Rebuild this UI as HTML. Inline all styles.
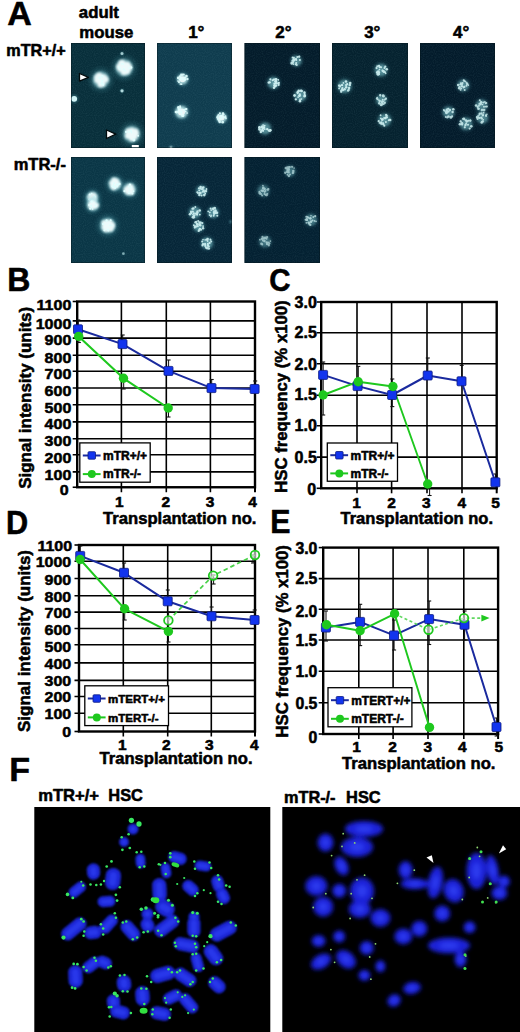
<!DOCTYPE html>
<html><head><meta charset="utf-8"><style>
html,body{margin:0;padding:0;background:#fff;}
body{width:520px;height:1032px;position:relative;overflow:hidden;}
svg{position:absolute;left:0;top:0;font-family:"Liberation Sans", sans-serif;font-weight:bold;}
text{stroke:#000;stroke-width:0.55px;stroke-linejoin:round;}
</style></head><body>
<svg width="520" height="1032" viewBox="0 0 520 1032">
<defs><radialGradient id="cell"><stop offset="0" stop-color="#ffffff"/><stop offset="0.6" stop-color="#f0ffff"/><stop offset="0.85" stop-color="#b0e0e4" stop-opacity="0.85"/><stop offset="1" stop-color="#70b8c0" stop-opacity="0"/></radialGradient><radialGradient id="glow"><stop offset="0" stop-color="#90d8e0" stop-opacity="0.7"/><stop offset="0.6" stop-color="#5aa8b4" stop-opacity="0.25"/><stop offset="1" stop-color="#3a8a98" stop-opacity="0"/></radialGradient><filter id="bl1" x="-50%" y="-50%" width="200%" height="200%"><feGaussianBlur stdDeviation="0.5"/></filter><filter id="bl2" x="-50%" y="-50%" width="200%" height="200%"><feGaussianBlur stdDeviation="1.2"/></filter><filter id="bl3" x="-50%" y="-50%" width="200%" height="200%"><feGaussianBlur stdDeviation="0.8"/></filter><filter id="noise" x="0" y="0" width="100%" height="100%"><feTurbulence type="fractalNoise" baseFrequency="0.9" numOctaves="1" seed="3"/><feColorMatrix values="0 0 0 0 0.5  0 0 0 0 0.8  0 0 0 0 0.85  0 0 0 0.9 -0.35"/></filter></defs>
<clipPath id="c71_43"><rect x="71" y="43" width="74" height="105"/></clipPath>
<rect x="71" y="43" width="74" height="105" fill="#082f3b"/>
<g clip-path="url(#c71_43)">
<rect x="71" y="43" width="74" height="105" filter="url(#noise)" opacity="0.18"/>
<circle cx="124.2" cy="67.7" r="15.4" fill="url(#glow)" opacity="0.90"/>
<circle cx="124.2" cy="67.7" r="8.9" fill="#9cdce4" opacity="0.45" filter="url(#bl2)"/>
<g fill="#f4ffff" opacity="0.95" filter="url(#bl3)"><circle cx="124.2" cy="67.7" r="5.4"/><circle cx="128.4" cy="67.6" r="3.8"/><circle cx="126.8" cy="70.9" r="3.5"/><circle cx="124.1" cy="71.8" r="3.5"/><circle cx="120.7" cy="68.7" r="3.2"/><circle cx="119.8" cy="66.8" r="3.6"/><circle cx="121.9" cy="63.5" r="3.8"/><circle cx="127.2" cy="64.6" r="3.1"/></g>
<g opacity="0.95" filter="url(#bl1)"><circle cx="129.1" cy="68.2" r="0.83" fill="#e0ffff"/><circle cx="125.4" cy="70.8" r="0.82" fill="#e0ffff"/><circle cx="119.8" cy="68.7" r="1.26" fill="#e0ffff"/><circle cx="118.8" cy="67.1" r="1.07" fill="#e0ffff"/><circle cx="121.8" cy="63.8" r="0.95" fill="#e0ffff"/><circle cx="131.0" cy="67.6" r="1.26" fill="#e0ffff"/><circle cx="123.2" cy="64.0" r="0.93" fill="#e0ffff"/><circle cx="123.8" cy="69.4" r="1.22" fill="#e0ffff"/></g>
<circle cx="101" cy="79.7" r="15.0" fill="url(#glow)" opacity="0.90"/>
<circle cx="101" cy="79.7" r="8.6" fill="#9cdce4" opacity="0.45" filter="url(#bl2)"/>
<g fill="#f4ffff" opacity="0.95" filter="url(#bl3)"><circle cx="101" cy="79.7" r="5.2"/><circle cx="105.4" cy="79.4" r="3.2"/><circle cx="102.7" cy="83.8" r="2.9"/><circle cx="100.8" cy="84.2" r="3.3"/><circle cx="97.2" cy="80.3" r="2.9"/><circle cx="97.2" cy="77.5" r="3.1"/><circle cx="99.3" cy="76.3" r="3.7"/><circle cx="103.6" cy="77.3" r="3.1"/></g>
<g opacity="0.95" filter="url(#bl1)"><circle cx="102.3" cy="80.7" r="1.24" fill="#e0ffff"/><circle cx="103.2" cy="84.1" r="1.05" fill="#e0ffff"/><circle cx="103.1" cy="85.0" r="0.87" fill="#e0ffff"/><circle cx="99.6" cy="77.9" r="1.03" fill="#e0ffff"/><circle cx="101.8" cy="83.0" r="1.33" fill="#e0ffff"/><circle cx="102.2" cy="76.3" r="1.29" fill="#e0ffff"/><circle cx="102.0" cy="83.7" r="1.27" fill="#e0ffff"/><circle cx="99.7" cy="78.1" r="1.34" fill="#e0ffff"/></g>
<circle cx="131.8" cy="134.2" r="15.0" fill="url(#glow)" opacity="0.90"/>
<circle cx="131.8" cy="134.2" r="8.6" fill="#9cdce4" opacity="0.45" filter="url(#bl2)"/>
<g fill="#f4ffff" opacity="0.95" filter="url(#bl3)"><circle cx="131.8" cy="134.2" r="5.2"/><circle cx="135.4" cy="133.6" r="3.5"/><circle cx="134.4" cy="136.9" r="2.9"/><circle cx="131.9" cy="138.3" r="3.1"/><circle cx="128.2" cy="135.7" r="3.3"/><circle cx="128.8" cy="131.6" r="3.4"/><circle cx="131.8" cy="130.6" r="3.0"/><circle cx="135.3" cy="131.5" r="3.1"/></g>
<g opacity="0.95" filter="url(#bl1)"><circle cx="133.9" cy="139.5" r="1.32" fill="#e0ffff"/><circle cx="133.9" cy="140.3" r="1.29" fill="#e0ffff"/><circle cx="128.4" cy="131.6" r="0.86" fill="#e0ffff"/><circle cx="138.1" cy="135.8" r="0.93" fill="#e0ffff"/><circle cx="130.9" cy="131.0" r="1.25" fill="#e0ffff"/><circle cx="128.9" cy="132.2" r="0.90" fill="#e0ffff"/><circle cx="131.5" cy="132.5" r="0.93" fill="#e0ffff"/><circle cx="126.1" cy="132.0" r="1.14" fill="#e0ffff"/></g>
<circle cx="74.2" cy="98.8" r="6.0" fill="url(#glow)" opacity="0.90"/>
<circle cx="74.2" cy="98.8" r="2.9" fill="#d0f4f6" opacity="1.00" filter="url(#bl1)"/>
<circle cx="122" cy="53.5" r="3.0" fill="url(#glow)" opacity="0.63"/>
<circle cx="122" cy="53.5" r="1.5" fill="#d0f4f6" opacity="0.70" filter="url(#bl1)"/>
<circle cx="122" cy="90.8" r="3.2" fill="url(#glow)" opacity="0.72"/>
<circle cx="122" cy="90.8" r="1.6" fill="#d0f4f6" opacity="0.80" filter="url(#bl1)"/>
</g>
<rect x="71.4" y="43.4" width="73.2" height="104.2" fill="none" stroke="#04141a" stroke-width="0.8" opacity="0.5"/>
<clipPath id="c157_43"><rect x="157" y="43" width="75" height="105"/></clipPath>
<rect x="157" y="43" width="75" height="105" fill="#0f3c4e"/>
<g clip-path="url(#c157_43)">
<rect x="157" y="43" width="75" height="105" filter="url(#noise)" opacity="0.18"/>
<circle cx="182.5" cy="79.2" r="9.6" fill="url(#glow)" opacity="0.76"/>
<circle cx="182.5" cy="79.2" r="5.4" fill="#c8f2f4" opacity="0.71" filter="url(#bl2)"/>
<circle cx="182.5" cy="79.2" r="3.0" fill="#ffffff" opacity="0.76" filter="url(#bl1)"/>
<g opacity="0.90" filter="url(#bl1)"><circle cx="181.5" cy="84.2" r="0.91" fill="#e0ffff"/><circle cx="185.2" cy="79.5" r="1.05" fill="#e0ffff"/><circle cx="184.6" cy="80.0" r="1.00" fill="#e0ffff"/><circle cx="180.8" cy="78.4" r="1.00" fill="#e0ffff"/><circle cx="186.5" cy="75.9" r="1.16" fill="#e0ffff"/><circle cx="181.0" cy="75.4" r="0.88" fill="#e0ffff"/><circle cx="183.2" cy="79.4" r="1.30" fill="#e0ffff"/><circle cx="180.9" cy="74.3" r="0.81" fill="#e0ffff"/><circle cx="180.1" cy="76.4" r="1.20" fill="#e0ffff"/><circle cx="180.3" cy="84.0" r="0.84" fill="#e0ffff"/><circle cx="178.2" cy="77.9" r="1.30" fill="#e0ffff"/><circle cx="182.1" cy="74.8" r="1.24" fill="#e0ffff"/><circle cx="185.2" cy="77.6" r="1.18" fill="#e0ffff"/><circle cx="186.5" cy="76.3" r="1.03" fill="#e0ffff"/><circle cx="183.7" cy="74.5" r="1.12" fill="#e0ffff"/><circle cx="180.2" cy="76.9" r="1.12" fill="#e0ffff"/><circle cx="181.3" cy="78.3" r="1.15" fill="#e0ffff"/><circle cx="187.4" cy="79.0" r="1.20" fill="#e0ffff"/><circle cx="179.0" cy="82.1" r="1.12" fill="#e0ffff"/><circle cx="178.0" cy="81.0" r="0.85" fill="#e0ffff"/><circle cx="182.5" cy="78.3" r="1.13" fill="#e0ffff"/><circle cx="180.0" cy="79.5" r="1.18" fill="#e0ffff"/></g>
<circle cx="181.5" cy="112" r="11.2" fill="url(#glow)" opacity="0.80"/>
<circle cx="181.5" cy="112" r="6.3" fill="#c8f2f4" opacity="0.75" filter="url(#bl2)"/>
<circle cx="181.5" cy="112" r="3.5" fill="#ffffff" opacity="0.80" filter="url(#bl1)"/>
<g opacity="0.95" filter="url(#bl1)"><circle cx="176.7" cy="112.1" r="1.31" fill="#e0ffff"/><circle cx="181.5" cy="112.7" r="0.97" fill="#e0ffff"/><circle cx="180.3" cy="109.5" r="0.89" fill="#e0ffff"/><circle cx="185.7" cy="109.2" r="1.04" fill="#e0ffff"/><circle cx="184.2" cy="109.8" r="1.17" fill="#e0ffff"/><circle cx="182.8" cy="115.8" r="1.24" fill="#e0ffff"/><circle cx="186.5" cy="109.0" r="1.01" fill="#e0ffff"/><circle cx="178.5" cy="110.3" r="0.87" fill="#e0ffff"/><circle cx="175.9" cy="112.1" r="1.27" fill="#e0ffff"/><circle cx="180.1" cy="106.2" r="0.95" fill="#e0ffff"/><circle cx="183.5" cy="115.6" r="0.95" fill="#e0ffff"/><circle cx="182.4" cy="115.9" r="1.14" fill="#e0ffff"/><circle cx="178.0" cy="112.1" r="1.26" fill="#e0ffff"/><circle cx="185.6" cy="111.5" r="0.84" fill="#e0ffff"/><circle cx="187.1" cy="113.1" r="0.82" fill="#e0ffff"/><circle cx="180.3" cy="107.5" r="0.97" fill="#e0ffff"/><circle cx="181.7" cy="111.2" r="0.87" fill="#e0ffff"/><circle cx="180.6" cy="112.3" r="1.26" fill="#e0ffff"/><circle cx="181.7" cy="114.3" r="0.83" fill="#e0ffff"/><circle cx="178.7" cy="109.0" r="1.15" fill="#e0ffff"/><circle cx="178.4" cy="107.4" r="1.33" fill="#e0ffff"/><circle cx="180.4" cy="109.5" r="1.06" fill="#e0ffff"/></g>
<circle cx="221.7" cy="117.7" r="8.8" fill="url(#glow)" opacity="0.76"/>
<circle cx="221.7" cy="117.7" r="5.0" fill="#c8f2f4" opacity="0.71" filter="url(#bl2)"/>
<circle cx="221.7" cy="117.7" r="2.8" fill="#ffffff" opacity="0.76" filter="url(#bl1)"/>
<g opacity="0.90" filter="url(#bl1)"><circle cx="221.9" cy="118.2" r="1.06" fill="#e0ffff"/><circle cx="221.2" cy="115.7" r="0.95" fill="#e0ffff"/><circle cx="219.4" cy="121.0" r="1.09" fill="#e0ffff"/><circle cx="218.5" cy="114.9" r="1.02" fill="#e0ffff"/><circle cx="222.9" cy="113.3" r="0.85" fill="#e0ffff"/><circle cx="225.5" cy="116.0" r="0.87" fill="#e0ffff"/><circle cx="218.0" cy="118.8" r="1.30" fill="#e0ffff"/><circle cx="219.1" cy="120.3" r="1.28" fill="#e0ffff"/><circle cx="223.1" cy="113.2" r="1.06" fill="#e0ffff"/><circle cx="220.4" cy="115.9" r="1.20" fill="#e0ffff"/><circle cx="223.3" cy="114.2" r="1.19" fill="#e0ffff"/><circle cx="222.7" cy="122.2" r="1.34" fill="#e0ffff"/><circle cx="225.2" cy="117.2" r="1.23" fill="#e0ffff"/><circle cx="219.7" cy="121.9" r="1.27" fill="#e0ffff"/><circle cx="220.9" cy="118.8" r="1.04" fill="#e0ffff"/><circle cx="217.7" cy="116.4" r="1.07" fill="#e0ffff"/><circle cx="226.0" cy="118.5" r="0.84" fill="#e0ffff"/><circle cx="222.3" cy="115.8" r="0.98" fill="#e0ffff"/><circle cx="222.1" cy="115.9" r="0.88" fill="#e0ffff"/><circle cx="217.6" cy="117.3" r="1.26" fill="#e0ffff"/><circle cx="219.9" cy="113.3" r="1.07" fill="#e0ffff"/><circle cx="223.0" cy="117.3" r="0.92" fill="#e0ffff"/></g>
<circle cx="171" cy="147.5" r="3.2" fill="url(#glow)" opacity="0.48"/>
<circle cx="171" cy="147.5" r="1.8" fill="#c8f2f4" opacity="0.45" filter="url(#bl2)"/>
<circle cx="171" cy="147.5" r="1.0" fill="#ffffff" opacity="0.48" filter="url(#bl1)"/>
</g>
<rect x="157.4" y="43.4" width="74.2" height="104.2" fill="none" stroke="#04141a" stroke-width="0.8" opacity="0.5"/>
<clipPath id="c244_5_43"><rect x="244.5" y="43" width="75.5" height="105"/></clipPath>
<rect x="244.5" y="43" width="75.5" height="105" fill="#041c2b"/>
<g clip-path="url(#c244_5_43)">
<rect x="244.5" y="43" width="75.5" height="105" filter="url(#noise)" opacity="0.18"/>
<circle cx="296.2" cy="60.8" r="9.0" fill="url(#glow)" opacity="0.59"/>
<circle cx="296.2" cy="60.8" r="5.4" fill="#7cc4cc" opacity="0.47" filter="url(#bl2)"/>
<g opacity="0.81" filter="url(#bl1)"><circle cx="293.4" cy="60.3" r="1.20" fill="#e0ffff"/><circle cx="293.7" cy="57.9" r="1.26" fill="#e0ffff"/><circle cx="293.5" cy="59.7" r="1.01" fill="#e0ffff"/><circle cx="299.0" cy="56.7" r="0.91" fill="#e0ffff"/><circle cx="299.3" cy="56.6" r="1.09" fill="#e0ffff"/><circle cx="294.1" cy="59.8" r="1.09" fill="#e0ffff"/><circle cx="292.1" cy="60.7" r="0.82" fill="#e0ffff"/><circle cx="299.9" cy="60.1" r="1.02" fill="#e0ffff"/><circle cx="297.4" cy="57.0" r="1.07" fill="#e0ffff"/><circle cx="295.7" cy="59.5" r="1.10" fill="#e0ffff"/><circle cx="291.8" cy="63.5" r="1.31" fill="#e0ffff"/><circle cx="295.8" cy="64.4" r="0.87" fill="#e0ffff"/><circle cx="291.8" cy="62.7" r="1.30" fill="#e0ffff"/><circle cx="293.3" cy="61.2" r="0.91" fill="#e0ffff"/><circle cx="292.5" cy="57.4" r="0.87" fill="#e0ffff"/><circle cx="296.3" cy="60.0" r="0.91" fill="#e0ffff"/><circle cx="296.8" cy="65.1" r="0.98" fill="#e0ffff"/><circle cx="293.6" cy="64.1" r="0.86" fill="#e0ffff"/><circle cx="296.0" cy="59.0" r="1.08" fill="#e0ffff"/><circle cx="296.2" cy="63.1" r="1.09" fill="#e0ffff"/><circle cx="293.2" cy="62.1" r="1.03" fill="#e0ffff"/><circle cx="294.1" cy="60.4" r="0.91" fill="#e0ffff"/></g>
<circle cx="273.5" cy="82.8" r="9.8" fill="url(#glow)" opacity="0.63"/>
<circle cx="273.5" cy="82.8" r="5.9" fill="#7cc4cc" opacity="0.50" filter="url(#bl2)"/>
<g opacity="0.85" filter="url(#bl1)"><circle cx="270.4" cy="79.4" r="1.09" fill="#e0ffff"/><circle cx="276.2" cy="79.2" r="1.27" fill="#e0ffff"/><circle cx="274.0" cy="87.7" r="1.25" fill="#e0ffff"/><circle cx="276.1" cy="81.0" r="0.97" fill="#e0ffff"/><circle cx="275.9" cy="81.6" r="1.35" fill="#e0ffff"/><circle cx="275.1" cy="81.4" r="0.93" fill="#e0ffff"/><circle cx="273.1" cy="79.9" r="0.85" fill="#e0ffff"/><circle cx="275.3" cy="79.6" r="1.23" fill="#e0ffff"/><circle cx="276.1" cy="85.4" r="1.18" fill="#e0ffff"/><circle cx="276.0" cy="83.1" r="1.18" fill="#e0ffff"/><circle cx="278.3" cy="79.8" r="0.86" fill="#e0ffff"/><circle cx="268.5" cy="82.6" r="1.08" fill="#e0ffff"/><circle cx="272.5" cy="80.5" r="0.84" fill="#e0ffff"/><circle cx="274.4" cy="83.5" r="1.10" fill="#e0ffff"/><circle cx="269.2" cy="82.4" r="0.88" fill="#e0ffff"/><circle cx="274.5" cy="85.2" r="1.26" fill="#e0ffff"/><circle cx="279.0" cy="82.5" r="0.85" fill="#e0ffff"/><circle cx="278.7" cy="84.9" r="1.05" fill="#e0ffff"/><circle cx="273.8" cy="79.5" r="1.06" fill="#e0ffff"/><circle cx="269.8" cy="82.4" r="1.13" fill="#e0ffff"/><circle cx="278.3" cy="83.2" r="1.26" fill="#e0ffff"/><circle cx="275.1" cy="86.3" r="1.21" fill="#e0ffff"/></g>
<circle cx="300.2" cy="95.7" r="9.8" fill="url(#glow)" opacity="0.63"/>
<circle cx="300.2" cy="95.7" r="5.9" fill="#7cc4cc" opacity="0.50" filter="url(#bl2)"/>
<g opacity="0.85" filter="url(#bl1)"><circle cx="298.1" cy="97.1" r="0.89" fill="#e0ffff"/><circle cx="299.5" cy="95.6" r="1.29" fill="#e0ffff"/><circle cx="301.7" cy="91.1" r="1.27" fill="#e0ffff"/><circle cx="297.7" cy="93.1" r="1.13" fill="#e0ffff"/><circle cx="294.5" cy="95.5" r="1.24" fill="#e0ffff"/><circle cx="299.9" cy="101.2" r="1.21" fill="#e0ffff"/><circle cx="301.1" cy="90.6" r="1.02" fill="#e0ffff"/><circle cx="304.5" cy="92.5" r="1.18" fill="#e0ffff"/><circle cx="300.7" cy="90.7" r="1.02" fill="#e0ffff"/><circle cx="299.9" cy="94.2" r="0.99" fill="#e0ffff"/><circle cx="299.6" cy="95.8" r="1.00" fill="#e0ffff"/><circle cx="297.3" cy="92.2" r="0.93" fill="#e0ffff"/><circle cx="304.6" cy="94.1" r="0.99" fill="#e0ffff"/><circle cx="297.9" cy="92.1" r="1.09" fill="#e0ffff"/><circle cx="295.8" cy="99.4" r="1.15" fill="#e0ffff"/><circle cx="298.7" cy="90.9" r="1.34" fill="#e0ffff"/><circle cx="304.6" cy="96.3" r="1.21" fill="#e0ffff"/><circle cx="300.0" cy="99.3" r="0.83" fill="#e0ffff"/><circle cx="301.4" cy="99.0" r="0.85" fill="#e0ffff"/><circle cx="300.2" cy="101.1" r="1.10" fill="#e0ffff"/><circle cx="294.6" cy="95.4" r="1.11" fill="#e0ffff"/><circle cx="304.8" cy="95.6" r="1.25" fill="#e0ffff"/></g>
<circle cx="265" cy="128.5" r="9.8" fill="url(#glow)" opacity="0.63"/>
<circle cx="265" cy="128.5" r="5.9" fill="#7cc4cc" opacity="0.50" filter="url(#bl2)"/>
<g opacity="0.85" filter="url(#bl1)"><circle cx="268.9" cy="130.5" r="1.22" fill="#e0ffff"/><circle cx="270.3" cy="130.0" r="0.89" fill="#e0ffff"/><circle cx="262.7" cy="128.9" r="1.07" fill="#e0ffff"/><circle cx="263.9" cy="127.6" r="1.32" fill="#e0ffff"/><circle cx="261.4" cy="130.5" r="1.13" fill="#e0ffff"/><circle cx="263.0" cy="130.8" r="1.16" fill="#e0ffff"/><circle cx="262.2" cy="127.4" r="1.19" fill="#e0ffff"/><circle cx="264.8" cy="129.1" r="0.93" fill="#e0ffff"/><circle cx="267.2" cy="129.1" r="1.22" fill="#e0ffff"/><circle cx="260.8" cy="132.0" r="1.21" fill="#e0ffff"/><circle cx="270.4" cy="130.3" r="1.32" fill="#e0ffff"/><circle cx="269.9" cy="130.9" r="1.04" fill="#e0ffff"/><circle cx="259.4" cy="129.3" r="0.93" fill="#e0ffff"/><circle cx="259.5" cy="127.7" r="1.20" fill="#e0ffff"/><circle cx="259.5" cy="129.6" r="1.25" fill="#e0ffff"/><circle cx="263.5" cy="127.3" r="1.14" fill="#e0ffff"/><circle cx="262.5" cy="129.2" r="0.83" fill="#e0ffff"/><circle cx="263.0" cy="128.1" r="1.04" fill="#e0ffff"/><circle cx="263.1" cy="125.1" r="0.94" fill="#e0ffff"/><circle cx="261.8" cy="126.7" r="1.23" fill="#e0ffff"/><circle cx="259.4" cy="127.4" r="1.32" fill="#e0ffff"/><circle cx="264.7" cy="125.7" r="0.86" fill="#e0ffff"/></g>
</g>
<rect x="244.9" y="43.4" width="74.7" height="104.2" fill="none" stroke="#04141a" stroke-width="0.8" opacity="0.5"/>
<clipPath id="c332_43"><rect x="332" y="43" width="76" height="105"/></clipPath>
<rect x="332" y="43" width="76" height="105" fill="#05222f"/>
<g clip-path="url(#c332_43)">
<rect x="332" y="43" width="76" height="105" filter="url(#noise)" opacity="0.18"/>
<circle cx="381" cy="70" r="10.5" fill="url(#glow)" opacity="0.59"/>
<circle cx="381" cy="70" r="6.3" fill="#7cc4cc" opacity="0.47" filter="url(#bl2)"/>
<g opacity="0.81" filter="url(#bl1)"><circle cx="385.3" cy="66.6" r="1.14" fill="#e0ffff"/><circle cx="379.0" cy="72.5" r="1.18" fill="#e0ffff"/><circle cx="376.6" cy="68.1" r="1.15" fill="#e0ffff"/><circle cx="381.1" cy="67.3" r="0.94" fill="#e0ffff"/><circle cx="386.8" cy="69.2" r="1.28" fill="#e0ffff"/><circle cx="382.5" cy="70.4" r="0.95" fill="#e0ffff"/><circle cx="376.7" cy="72.2" r="0.86" fill="#e0ffff"/><circle cx="379.4" cy="69.6" r="0.85" fill="#e0ffff"/><circle cx="379.0" cy="65.9" r="1.15" fill="#e0ffff"/><circle cx="378.0" cy="73.0" r="0.92" fill="#e0ffff"/><circle cx="378.0" cy="74.4" r="1.26" fill="#e0ffff"/><circle cx="382.9" cy="71.0" r="1.25" fill="#e0ffff"/><circle cx="377.2" cy="66.2" r="0.92" fill="#e0ffff"/><circle cx="378.2" cy="71.4" r="1.25" fill="#e0ffff"/><circle cx="377.6" cy="73.7" r="1.34" fill="#e0ffff"/><circle cx="378.9" cy="74.1" r="1.21" fill="#e0ffff"/><circle cx="384.5" cy="68.1" r="1.00" fill="#e0ffff"/><circle cx="385.7" cy="73.3" r="0.84" fill="#e0ffff"/><circle cx="385.0" cy="72.3" r="1.07" fill="#e0ffff"/><circle cx="379.7" cy="66.9" r="1.23" fill="#e0ffff"/><circle cx="383.5" cy="71.3" r="1.16" fill="#e0ffff"/><circle cx="384.0" cy="71.7" r="1.20" fill="#e0ffff"/></g>
<circle cx="344.6" cy="86.2" r="11.2" fill="url(#glow)" opacity="0.59"/>
<circle cx="344.6" cy="86.2" r="6.8" fill="#7cc4cc" opacity="0.47" filter="url(#bl2)"/>
<g opacity="0.81" filter="url(#bl1)"><circle cx="343.4" cy="82.9" r="0.88" fill="#e0ffff"/><circle cx="341.1" cy="90.6" r="1.00" fill="#e0ffff"/><circle cx="348.7" cy="89.9" r="1.11" fill="#e0ffff"/><circle cx="350.2" cy="83.1" r="1.30" fill="#e0ffff"/><circle cx="339.1" cy="88.4" r="0.97" fill="#e0ffff"/><circle cx="342.9" cy="90.0" r="1.31" fill="#e0ffff"/><circle cx="347.2" cy="84.2" r="1.00" fill="#e0ffff"/><circle cx="342.0" cy="89.2" r="1.02" fill="#e0ffff"/><circle cx="342.4" cy="88.1" r="1.11" fill="#e0ffff"/><circle cx="346.0" cy="81.6" r="1.26" fill="#e0ffff"/><circle cx="342.0" cy="85.1" r="1.22" fill="#e0ffff"/><circle cx="347.2" cy="83.8" r="0.81" fill="#e0ffff"/><circle cx="339.8" cy="85.7" r="1.11" fill="#e0ffff"/><circle cx="349.8" cy="85.1" r="1.24" fill="#e0ffff"/><circle cx="349.1" cy="88.1" r="1.23" fill="#e0ffff"/><circle cx="346.2" cy="87.2" r="1.21" fill="#e0ffff"/><circle cx="346.1" cy="85.1" r="1.15" fill="#e0ffff"/><circle cx="348.1" cy="90.7" r="1.16" fill="#e0ffff"/><circle cx="344.7" cy="89.3" r="1.22" fill="#e0ffff"/><circle cx="338.9" cy="85.4" r="1.02" fill="#e0ffff"/><circle cx="341.2" cy="91.7" r="1.17" fill="#e0ffff"/><circle cx="339.8" cy="86.4" r="1.20" fill="#e0ffff"/></g>
<circle cx="381.5" cy="100" r="9.0" fill="url(#glow)" opacity="0.56"/>
<circle cx="381.5" cy="100" r="5.4" fill="#7cc4cc" opacity="0.44" filter="url(#bl2)"/>
<g opacity="0.76" filter="url(#bl1)"><circle cx="380.2" cy="95.1" r="1.03" fill="#e0ffff"/><circle cx="383.5" cy="96.2" r="1.27" fill="#e0ffff"/><circle cx="383.2" cy="95.5" r="1.29" fill="#e0ffff"/><circle cx="385.6" cy="98.9" r="1.09" fill="#e0ffff"/><circle cx="380.3" cy="95.4" r="1.03" fill="#e0ffff"/><circle cx="379.7" cy="101.0" r="1.21" fill="#e0ffff"/><circle cx="384.7" cy="99.8" r="0.89" fill="#e0ffff"/><circle cx="382.5" cy="103.3" r="0.96" fill="#e0ffff"/><circle cx="382.8" cy="99.8" r="0.97" fill="#e0ffff"/><circle cx="384.7" cy="102.8" r="1.23" fill="#e0ffff"/><circle cx="382.1" cy="101.2" r="1.05" fill="#e0ffff"/><circle cx="377.2" cy="97.5" r="0.82" fill="#e0ffff"/><circle cx="383.3" cy="101.4" r="0.92" fill="#e0ffff"/><circle cx="381.9" cy="104.5" r="1.13" fill="#e0ffff"/><circle cx="381.9" cy="102.2" r="0.95" fill="#e0ffff"/><circle cx="383.7" cy="104.1" r="0.97" fill="#e0ffff"/><circle cx="376.9" cy="98.6" r="1.06" fill="#e0ffff"/><circle cx="381.2" cy="105.0" r="1.30" fill="#e0ffff"/><circle cx="379.4" cy="103.3" r="1.33" fill="#e0ffff"/><circle cx="379.0" cy="100.3" r="0.83" fill="#e0ffff"/><circle cx="386.0" cy="98.5" r="1.01" fill="#e0ffff"/><circle cx="377.8" cy="99.3" r="0.95" fill="#e0ffff"/></g>
<circle cx="384.6" cy="120" r="10.5" fill="url(#glow)" opacity="0.59"/>
<circle cx="384.6" cy="120" r="6.3" fill="#7cc4cc" opacity="0.47" filter="url(#bl2)"/>
<g opacity="0.81" filter="url(#bl1)"><circle cx="389.6" cy="119.7" r="0.93" fill="#e0ffff"/><circle cx="388.8" cy="120.3" r="1.00" fill="#e0ffff"/><circle cx="386.1" cy="115.0" r="1.13" fill="#e0ffff"/><circle cx="385.9" cy="122.0" r="0.98" fill="#e0ffff"/><circle cx="384.3" cy="125.7" r="1.08" fill="#e0ffff"/><circle cx="380.6" cy="115.3" r="0.95" fill="#e0ffff"/><circle cx="382.3" cy="119.5" r="1.22" fill="#e0ffff"/><circle cx="390.2" cy="120.0" r="1.27" fill="#e0ffff"/><circle cx="385.4" cy="118.4" r="0.95" fill="#e0ffff"/><circle cx="384.2" cy="118.1" r="1.06" fill="#e0ffff"/><circle cx="378.7" cy="121.2" r="1.12" fill="#e0ffff"/><circle cx="386.7" cy="117.3" r="1.23" fill="#e0ffff"/><circle cx="379.5" cy="122.9" r="0.85" fill="#e0ffff"/><circle cx="385.9" cy="117.5" r="1.10" fill="#e0ffff"/><circle cx="382.2" cy="119.6" r="1.26" fill="#e0ffff"/><circle cx="383.3" cy="123.2" r="0.84" fill="#e0ffff"/><circle cx="383.2" cy="124.0" r="1.19" fill="#e0ffff"/><circle cx="381.4" cy="123.9" r="0.86" fill="#e0ffff"/><circle cx="381.3" cy="122.6" r="1.33" fill="#e0ffff"/><circle cx="387.0" cy="115.6" r="0.81" fill="#e0ffff"/><circle cx="380.9" cy="123.6" r="0.93" fill="#e0ffff"/><circle cx="380.8" cy="118.4" r="0.81" fill="#e0ffff"/></g>
</g>
<rect x="332.4" y="43.4" width="75.2" height="104.2" fill="none" stroke="#04141a" stroke-width="0.8" opacity="0.5"/>
<clipPath id="c420_43"><rect x="420" y="43" width="75" height="105"/></clipPath>
<rect x="420" y="43" width="75" height="105" fill="#031b2b"/>
<g clip-path="url(#c420_43)">
<rect x="420" y="43" width="75" height="105" filter="url(#noise)" opacity="0.18"/>
<circle cx="463.2" cy="85.4" r="9.8" fill="url(#glow)" opacity="0.56"/>
<circle cx="463.2" cy="85.4" r="5.9" fill="#7cc4cc" opacity="0.44" filter="url(#bl2)"/>
<g opacity="0.76" filter="url(#bl1)"><circle cx="468.3" cy="85.1" r="0.91" fill="#e0ffff"/><circle cx="460.9" cy="83.3" r="1.01" fill="#e0ffff"/><circle cx="460.2" cy="84.6" r="0.99" fill="#e0ffff"/><circle cx="459.6" cy="88.3" r="0.94" fill="#e0ffff"/><circle cx="464.7" cy="90.1" r="0.98" fill="#e0ffff"/><circle cx="467.2" cy="83.9" r="1.20" fill="#e0ffff"/><circle cx="460.6" cy="89.9" r="0.85" fill="#e0ffff"/><circle cx="464.3" cy="86.8" r="1.17" fill="#e0ffff"/><circle cx="462.6" cy="83.1" r="1.02" fill="#e0ffff"/><circle cx="465.5" cy="81.6" r="0.85" fill="#e0ffff"/><circle cx="463.5" cy="87.6" r="0.87" fill="#e0ffff"/><circle cx="461.9" cy="86.3" r="1.31" fill="#e0ffff"/><circle cx="459.5" cy="87.2" r="1.16" fill="#e0ffff"/><circle cx="463.7" cy="80.2" r="1.01" fill="#e0ffff"/><circle cx="461.4" cy="88.6" r="0.81" fill="#e0ffff"/><circle cx="459.3" cy="88.2" r="1.34" fill="#e0ffff"/><circle cx="464.3" cy="80.9" r="1.13" fill="#e0ffff"/><circle cx="466.5" cy="85.8" r="0.99" fill="#e0ffff"/><circle cx="462.1" cy="83.9" r="1.01" fill="#e0ffff"/><circle cx="458.1" cy="85.1" r="1.25" fill="#e0ffff"/><circle cx="461.5" cy="83.9" r="1.22" fill="#e0ffff"/><circle cx="466.7" cy="83.0" r="0.99" fill="#e0ffff"/></g>
<circle cx="448.5" cy="112.3" r="9.8" fill="url(#glow)" opacity="0.56"/>
<circle cx="448.5" cy="112.3" r="5.9" fill="#7cc4cc" opacity="0.44" filter="url(#bl2)"/>
<g opacity="0.76" filter="url(#bl1)"><circle cx="446.3" cy="112.3" r="1.19" fill="#e0ffff"/><circle cx="452.6" cy="112.0" r="1.19" fill="#e0ffff"/><circle cx="449.8" cy="110.1" r="1.32" fill="#e0ffff"/><circle cx="446.7" cy="110.5" r="0.85" fill="#e0ffff"/><circle cx="448.6" cy="116.6" r="1.18" fill="#e0ffff"/><circle cx="445.9" cy="117.1" r="1.00" fill="#e0ffff"/><circle cx="446.5" cy="112.8" r="1.34" fill="#e0ffff"/><circle cx="452.1" cy="116.4" r="1.10" fill="#e0ffff"/><circle cx="444.5" cy="110.7" r="0.95" fill="#e0ffff"/><circle cx="453.3" cy="109.2" r="1.25" fill="#e0ffff"/><circle cx="446.9" cy="111.1" r="1.25" fill="#e0ffff"/><circle cx="447.2" cy="117.6" r="0.93" fill="#e0ffff"/><circle cx="443.8" cy="110.0" r="0.90" fill="#e0ffff"/><circle cx="447.0" cy="111.8" r="0.82" fill="#e0ffff"/><circle cx="450.9" cy="117.4" r="1.32" fill="#e0ffff"/><circle cx="446.8" cy="109.6" r="1.17" fill="#e0ffff"/><circle cx="448.2" cy="108.8" r="1.13" fill="#e0ffff"/><circle cx="448.7" cy="111.6" r="0.91" fill="#e0ffff"/><circle cx="446.4" cy="112.7" r="1.01" fill="#e0ffff"/><circle cx="446.3" cy="111.3" r="1.09" fill="#e0ffff"/><circle cx="448.1" cy="116.6" r="0.98" fill="#e0ffff"/><circle cx="447.8" cy="111.4" r="1.17" fill="#e0ffff"/></g>
<circle cx="466" cy="123.8" r="10.5" fill="url(#glow)" opacity="0.56"/>
<circle cx="466" cy="123.8" r="6.3" fill="#7cc4cc" opacity="0.44" filter="url(#bl2)"/>
<g opacity="0.76" filter="url(#bl1)"><circle cx="469.7" cy="128.6" r="1.13" fill="#e0ffff"/><circle cx="462.1" cy="124.5" r="1.14" fill="#e0ffff"/><circle cx="464.0" cy="118.8" r="1.21" fill="#e0ffff"/><circle cx="459.9" cy="124.3" r="1.26" fill="#e0ffff"/><circle cx="468.4" cy="120.7" r="1.04" fill="#e0ffff"/><circle cx="460.6" cy="121.4" r="1.09" fill="#e0ffff"/><circle cx="462.0" cy="123.2" r="1.30" fill="#e0ffff"/><circle cx="465.4" cy="125.1" r="1.20" fill="#e0ffff"/><circle cx="470.3" cy="120.7" r="1.13" fill="#e0ffff"/><circle cx="466.0" cy="120.4" r="1.13" fill="#e0ffff"/><circle cx="468.0" cy="124.7" r="1.05" fill="#e0ffff"/><circle cx="462.1" cy="123.7" r="0.83" fill="#e0ffff"/><circle cx="464.5" cy="119.6" r="0.93" fill="#e0ffff"/><circle cx="464.7" cy="127.4" r="0.93" fill="#e0ffff"/><circle cx="471.3" cy="126.3" r="1.33" fill="#e0ffff"/><circle cx="463.1" cy="118.9" r="1.03" fill="#e0ffff"/><circle cx="467.0" cy="121.1" r="1.21" fill="#e0ffff"/><circle cx="460.7" cy="121.4" r="0.85" fill="#e0ffff"/><circle cx="466.6" cy="121.7" r="1.10" fill="#e0ffff"/><circle cx="466.1" cy="123.8" r="0.93" fill="#e0ffff"/><circle cx="464.9" cy="127.1" r="0.83" fill="#e0ffff"/><circle cx="470.4" cy="120.4" r="1.02" fill="#e0ffff"/></g>
<circle cx="481.6" cy="105.4" r="9.8" fill="url(#glow)" opacity="0.56"/>
<circle cx="481.6" cy="105.4" r="5.9" fill="#7cc4cc" opacity="0.44" filter="url(#bl2)"/>
<g opacity="0.76" filter="url(#bl1)"><circle cx="478.9" cy="108.8" r="0.83" fill="#e0ffff"/><circle cx="486.9" cy="106.5" r="0.97" fill="#e0ffff"/><circle cx="476.1" cy="105.5" r="1.34" fill="#e0ffff"/><circle cx="479.0" cy="105.8" r="0.96" fill="#e0ffff"/><circle cx="486.4" cy="102.9" r="0.91" fill="#e0ffff"/><circle cx="483.4" cy="102.5" r="1.06" fill="#e0ffff"/><circle cx="484.1" cy="110.1" r="1.35" fill="#e0ffff"/><circle cx="483.0" cy="109.7" r="0.91" fill="#e0ffff"/><circle cx="482.5" cy="104.5" r="0.86" fill="#e0ffff"/><circle cx="481.1" cy="102.2" r="1.30" fill="#e0ffff"/><circle cx="484.9" cy="101.9" r="0.87" fill="#e0ffff"/><circle cx="479.8" cy="100.2" r="1.04" fill="#e0ffff"/><circle cx="484.0" cy="106.7" r="0.97" fill="#e0ffff"/><circle cx="481.0" cy="102.9" r="0.90" fill="#e0ffff"/><circle cx="482.0" cy="110.0" r="1.23" fill="#e0ffff"/><circle cx="478.4" cy="108.7" r="1.29" fill="#e0ffff"/><circle cx="479.3" cy="103.9" r="0.97" fill="#e0ffff"/><circle cx="485.8" cy="103.3" r="0.95" fill="#e0ffff"/><circle cx="480.5" cy="104.1" r="1.34" fill="#e0ffff"/><circle cx="477.7" cy="106.9" r="1.09" fill="#e0ffff"/><circle cx="485.9" cy="106.6" r="0.96" fill="#e0ffff"/><circle cx="481.6" cy="110.5" r="0.85" fill="#e0ffff"/></g>
<circle cx="482.4" cy="117.7" r="9.8" fill="url(#glow)" opacity="0.56"/>
<circle cx="482.4" cy="117.7" r="5.9" fill="#7cc4cc" opacity="0.44" filter="url(#bl2)"/>
<g opacity="0.76" filter="url(#bl1)"><circle cx="481.3" cy="122.6" r="0.94" fill="#e0ffff"/><circle cx="481.6" cy="121.9" r="0.90" fill="#e0ffff"/><circle cx="486.9" cy="114.3" r="0.82" fill="#e0ffff"/><circle cx="477.6" cy="118.9" r="1.01" fill="#e0ffff"/><circle cx="486.1" cy="116.0" r="0.90" fill="#e0ffff"/><circle cx="478.1" cy="116.1" r="1.00" fill="#e0ffff"/><circle cx="479.6" cy="113.5" r="1.08" fill="#e0ffff"/><circle cx="477.1" cy="117.5" r="1.18" fill="#e0ffff"/><circle cx="476.9" cy="117.0" r="0.90" fill="#e0ffff"/><circle cx="482.8" cy="115.4" r="1.13" fill="#e0ffff"/><circle cx="482.7" cy="121.5" r="1.23" fill="#e0ffff"/><circle cx="483.6" cy="112.7" r="0.93" fill="#e0ffff"/><circle cx="479.7" cy="117.9" r="1.12" fill="#e0ffff"/><circle cx="481.3" cy="117.7" r="1.13" fill="#e0ffff"/><circle cx="481.4" cy="113.5" r="1.28" fill="#e0ffff"/><circle cx="483.3" cy="119.7" r="0.81" fill="#e0ffff"/><circle cx="478.6" cy="117.8" r="1.04" fill="#e0ffff"/><circle cx="482.0" cy="122.8" r="0.84" fill="#e0ffff"/><circle cx="486.0" cy="115.3" r="1.10" fill="#e0ffff"/><circle cx="483.1" cy="115.0" r="0.88" fill="#e0ffff"/><circle cx="482.0" cy="118.8" r="0.97" fill="#e0ffff"/><circle cx="479.4" cy="114.8" r="0.95" fill="#e0ffff"/></g>
</g>
<rect x="420.4" y="43.4" width="74.2" height="104.2" fill="none" stroke="#04141a" stroke-width="0.8" opacity="0.5"/>
<clipPath id="c71_157"><rect x="71" y="157" width="74" height="106"/></clipPath>
<rect x="71" y="157" width="74" height="106" fill="#0a3646"/>
<g clip-path="url(#c71_157)">
<rect x="71" y="157" width="74" height="106" filter="url(#noise)" opacity="0.18"/>
<circle cx="114.9" cy="184" r="12.0" fill="url(#glow)" opacity="0.90"/>
<circle cx="114.9" cy="184" r="6.9" fill="#9cdce4" opacity="0.45" filter="url(#bl2)"/>
<g fill="#f4ffff" opacity="0.95" filter="url(#bl3)"><circle cx="114.9" cy="184" r="4.2"/><circle cx="117.7" cy="184.1" r="2.9"/><circle cx="117.2" cy="185.9" r="2.4"/><circle cx="113.7" cy="187.3" r="2.8"/><circle cx="112.5" cy="186.0" r="2.5"/><circle cx="111.4" cy="183.0" r="2.3"/><circle cx="114.1" cy="180.6" r="3.0"/><circle cx="116.3" cy="181.2" r="2.8"/></g>
<g opacity="0.95" filter="url(#bl1)"><circle cx="117.4" cy="184.6" r="1.29" fill="#e0ffff"/><circle cx="117.0" cy="186.6" r="0.96" fill="#e0ffff"/><circle cx="113.6" cy="184.7" r="0.82" fill="#e0ffff"/><circle cx="119.5" cy="183.9" r="1.20" fill="#e0ffff"/><circle cx="115.2" cy="186.6" r="1.10" fill="#e0ffff"/><circle cx="115.1" cy="187.6" r="1.31" fill="#e0ffff"/><circle cx="112.9" cy="186.3" r="1.34" fill="#e0ffff"/><circle cx="114.1" cy="183.3" r="1.02" fill="#e0ffff"/></g>
<circle cx="129.5" cy="189.4" r="12.0" fill="url(#glow)" opacity="0.90"/>
<circle cx="129.5" cy="189.4" r="6.9" fill="#9cdce4" opacity="0.45" filter="url(#bl2)"/>
<g fill="#f4ffff" opacity="0.95" filter="url(#bl3)"><circle cx="129.5" cy="189.4" r="4.2"/><circle cx="132.2" cy="189.6" r="2.5"/><circle cx="131.4" cy="192.4" r="2.7"/><circle cx="128.1" cy="192.2" r="2.6"/><circle cx="126.5" cy="190.1" r="2.8"/><circle cx="126.6" cy="188.6" r="2.4"/><circle cx="128.9" cy="186.6" r="2.4"/><circle cx="131.0" cy="186.6" r="2.5"/></g>
<g opacity="0.95" filter="url(#bl1)"><circle cx="124.5" cy="191.1" r="1.17" fill="#e0ffff"/><circle cx="131.1" cy="187.6" r="1.01" fill="#e0ffff"/><circle cx="133.4" cy="191.3" r="1.00" fill="#e0ffff"/><circle cx="129.4" cy="190.1" r="0.90" fill="#e0ffff"/><circle cx="129.2" cy="192.7" r="1.31" fill="#e0ffff"/><circle cx="128.9" cy="186.7" r="1.00" fill="#e0ffff"/><circle cx="132.4" cy="193.6" r="1.00" fill="#e0ffff"/><circle cx="129.9" cy="184.9" r="1.30" fill="#e0ffff"/></g>
<circle cx="92.3" cy="197.5" r="11.0" fill="url(#glow)" opacity="0.90"/>
<circle cx="92.3" cy="197.5" r="6.3" fill="#9cdce4" opacity="0.45" filter="url(#bl2)"/>
<g fill="#f4ffff" opacity="0.95" filter="url(#bl3)"><circle cx="92.3" cy="197.5" r="3.8"/><circle cx="95.0" cy="196.7" r="2.3"/><circle cx="94.9" cy="199.5" r="2.3"/><circle cx="91.2" cy="200.2" r="2.1"/><circle cx="89.9" cy="198.8" r="2.1"/><circle cx="89.4" cy="196.8" r="2.1"/><circle cx="91.4" cy="194.8" r="2.4"/><circle cx="93.7" cy="194.7" r="2.3"/></g>
<g opacity="0.95" filter="url(#bl1)"><circle cx="91.7" cy="193.6" r="0.88" fill="#e0ffff"/><circle cx="93.0" cy="200.0" r="1.19" fill="#e0ffff"/><circle cx="89.8" cy="199.2" r="1.28" fill="#e0ffff"/><circle cx="92.7" cy="200.1" r="0.99" fill="#e0ffff"/><circle cx="92.5" cy="198.5" r="0.81" fill="#e0ffff"/><circle cx="89.8" cy="194.8" r="1.24" fill="#e0ffff"/><circle cx="94.9" cy="197.1" r="1.17" fill="#e0ffff"/><circle cx="94.3" cy="196.4" r="1.18" fill="#e0ffff"/></g>
<circle cx="92.8" cy="205" r="11.0" fill="url(#glow)" opacity="0.90"/>
<circle cx="92.8" cy="205" r="6.3" fill="#9cdce4" opacity="0.45" filter="url(#bl2)"/>
<g fill="#f4ffff" opacity="0.95" filter="url(#bl3)"><circle cx="92.8" cy="205" r="3.8"/><circle cx="96.2" cy="205.3" r="2.7"/><circle cx="95.1" cy="207.1" r="2.1"/><circle cx="92.3" cy="207.8" r="2.1"/><circle cx="90.4" cy="206.4" r="2.4"/><circle cx="90.3" cy="204.2" r="2.4"/><circle cx="92.2" cy="202.4" r="2.5"/><circle cx="94.1" cy="202.8" r="2.3"/></g>
<g opacity="0.95" filter="url(#bl1)"><circle cx="91.1" cy="205.9" r="1.12" fill="#e0ffff"/><circle cx="91.7" cy="201.6" r="1.19" fill="#e0ffff"/><circle cx="95.8" cy="205.4" r="1.00" fill="#e0ffff"/><circle cx="95.6" cy="206.2" r="0.83" fill="#e0ffff"/><circle cx="89.1" cy="205.1" r="1.06" fill="#e0ffff"/><circle cx="91.7" cy="207.2" r="0.81" fill="#e0ffff"/><circle cx="90.2" cy="208.7" r="1.11" fill="#e0ffff"/><circle cx="92.5" cy="208.9" r="0.90" fill="#e0ffff"/></g>
<circle cx="107.7" cy="225.5" r="14.0" fill="url(#glow)" opacity="0.90"/>
<circle cx="107.7" cy="225.5" r="8.0" fill="#9cdce4" opacity="0.45" filter="url(#bl2)"/>
<g fill="#f4ffff" opacity="0.95" filter="url(#bl3)"><circle cx="107.7" cy="225.5" r="4.9"/><circle cx="111.6" cy="225.4" r="3.5"/><circle cx="110.3" cy="228.3" r="3.5"/><circle cx="106.2" cy="229.1" r="3.2"/><circle cx="104.5" cy="227.3" r="2.9"/><circle cx="104.4" cy="223.0" r="3.0"/><circle cx="107.8" cy="222.3" r="2.8"/><circle cx="109.9" cy="222.8" r="3.0"/></g>
<g opacity="0.95" filter="url(#bl1)"><circle cx="110.1" cy="225.2" r="0.91" fill="#e0ffff"/><circle cx="108.4" cy="230.5" r="0.93" fill="#e0ffff"/><circle cx="112.2" cy="225.5" r="1.02" fill="#e0ffff"/><circle cx="108.0" cy="229.8" r="1.16" fill="#e0ffff"/><circle cx="103.1" cy="224.1" r="1.11" fill="#e0ffff"/><circle cx="110.7" cy="220.2" r="0.98" fill="#e0ffff"/><circle cx="104.4" cy="230.3" r="0.97" fill="#e0ffff"/><circle cx="106.6" cy="220.5" r="1.18" fill="#e0ffff"/></g>
<circle cx="123.4" cy="253.7" r="2.4" fill="url(#glow)" opacity="0.45"/>
<circle cx="123.4" cy="253.7" r="1.4" fill="#d0f4f6" opacity="0.50" filter="url(#bl1)"/>
</g>
<rect x="71.4" y="157.4" width="73.2" height="105.2" fill="none" stroke="#04141a" stroke-width="0.8" opacity="0.5"/>
<clipPath id="c157_157"><rect x="157" y="157" width="75" height="106"/></clipPath>
<rect x="157" y="157" width="75" height="106" fill="#062638"/>
<g clip-path="url(#c157_157)">
<rect x="157" y="157" width="75" height="106" filter="url(#noise)" opacity="0.18"/>
<circle cx="201.7" cy="190.9" r="9.0" fill="url(#glow)" opacity="0.59"/>
<circle cx="201.7" cy="190.9" r="5.4" fill="#7cc4cc" opacity="0.47" filter="url(#bl2)"/>
<g opacity="0.81" filter="url(#bl1)"><circle cx="206.4" cy="189.8" r="0.89" fill="#e0ffff"/><circle cx="199.0" cy="188.3" r="1.11" fill="#e0ffff"/><circle cx="199.8" cy="193.0" r="1.21" fill="#e0ffff"/><circle cx="199.2" cy="190.4" r="0.94" fill="#e0ffff"/><circle cx="200.7" cy="192.9" r="1.08" fill="#e0ffff"/><circle cx="202.6" cy="191.8" r="0.84" fill="#e0ffff"/><circle cx="205.2" cy="193.6" r="0.86" fill="#e0ffff"/><circle cx="197.3" cy="192.3" r="1.06" fill="#e0ffff"/><circle cx="204.3" cy="195.1" r="1.28" fill="#e0ffff"/><circle cx="204.2" cy="191.8" r="1.08" fill="#e0ffff"/><circle cx="202.7" cy="187.7" r="1.19" fill="#e0ffff"/><circle cx="201.6" cy="195.4" r="0.98" fill="#e0ffff"/><circle cx="199.4" cy="194.9" r="1.26" fill="#e0ffff"/><circle cx="203.6" cy="187.4" r="1.03" fill="#e0ffff"/><circle cx="200.6" cy="186.9" r="1.26" fill="#e0ffff"/><circle cx="202.3" cy="189.1" r="1.01" fill="#e0ffff"/><circle cx="200.5" cy="188.7" r="0.90" fill="#e0ffff"/><circle cx="205.7" cy="191.2" r="1.32" fill="#e0ffff"/><circle cx="203.6" cy="190.5" r="1.18" fill="#e0ffff"/><circle cx="198.0" cy="192.9" r="1.02" fill="#e0ffff"/><circle cx="206.5" cy="188.8" r="0.83" fill="#e0ffff"/><circle cx="201.3" cy="189.1" r="0.82" fill="#e0ffff"/></g>
<circle cx="194.8" cy="212.5" r="9.8" fill="url(#glow)" opacity="0.59"/>
<circle cx="194.8" cy="212.5" r="5.9" fill="#7cc4cc" opacity="0.47" filter="url(#bl2)"/>
<g opacity="0.81" filter="url(#bl1)"><circle cx="193.7" cy="217.3" r="1.35" fill="#e0ffff"/><circle cx="197.2" cy="214.8" r="0.81" fill="#e0ffff"/><circle cx="191.0" cy="211.4" r="1.01" fill="#e0ffff"/><circle cx="192.9" cy="217.3" r="1.26" fill="#e0ffff"/><circle cx="194.0" cy="216.0" r="1.14" fill="#e0ffff"/><circle cx="195.3" cy="206.9" r="1.01" fill="#e0ffff"/><circle cx="193.3" cy="208.5" r="1.24" fill="#e0ffff"/><circle cx="196.2" cy="214.4" r="0.86" fill="#e0ffff"/><circle cx="197.4" cy="211.3" r="1.07" fill="#e0ffff"/><circle cx="197.2" cy="214.7" r="0.81" fill="#e0ffff"/><circle cx="192.8" cy="211.6" r="1.14" fill="#e0ffff"/><circle cx="194.4" cy="215.2" r="1.07" fill="#e0ffff"/><circle cx="192.9" cy="214.7" r="0.83" fill="#e0ffff"/><circle cx="199.8" cy="214.6" r="0.97" fill="#e0ffff"/><circle cx="197.0" cy="213.7" r="1.07" fill="#e0ffff"/><circle cx="197.4" cy="212.5" r="1.28" fill="#e0ffff"/><circle cx="191.1" cy="212.9" r="1.24" fill="#e0ffff"/><circle cx="193.7" cy="213.3" r="1.10" fill="#e0ffff"/><circle cx="192.3" cy="208.7" r="0.95" fill="#e0ffff"/><circle cx="199.7" cy="210.5" r="1.35" fill="#e0ffff"/><circle cx="189.9" cy="214.3" r="1.20" fill="#e0ffff"/><circle cx="195.2" cy="213.3" r="0.89" fill="#e0ffff"/></g>
<circle cx="213.2" cy="212.5" r="9.0" fill="url(#glow)" opacity="0.59"/>
<circle cx="213.2" cy="212.5" r="5.4" fill="#7cc4cc" opacity="0.47" filter="url(#bl2)"/>
<g opacity="0.81" filter="url(#bl1)"><circle cx="214.3" cy="213.5" r="1.00" fill="#e0ffff"/><circle cx="213.3" cy="209.6" r="1.08" fill="#e0ffff"/><circle cx="215.6" cy="212.7" r="1.33" fill="#e0ffff"/><circle cx="217.0" cy="212.8" r="1.25" fill="#e0ffff"/><circle cx="214.4" cy="208.1" r="1.02" fill="#e0ffff"/><circle cx="214.8" cy="208.0" r="1.22" fill="#e0ffff"/><circle cx="214.9" cy="212.4" r="1.32" fill="#e0ffff"/><circle cx="209.6" cy="215.1" r="0.94" fill="#e0ffff"/><circle cx="213.9" cy="212.1" r="1.12" fill="#e0ffff"/><circle cx="213.7" cy="215.8" r="1.00" fill="#e0ffff"/><circle cx="210.6" cy="208.5" r="1.00" fill="#e0ffff"/><circle cx="211.2" cy="210.1" r="0.95" fill="#e0ffff"/><circle cx="215.7" cy="210.8" r="0.85" fill="#e0ffff"/><circle cx="210.9" cy="216.4" r="0.92" fill="#e0ffff"/><circle cx="213.0" cy="208.6" r="1.17" fill="#e0ffff"/><circle cx="214.0" cy="214.0" r="0.88" fill="#e0ffff"/><circle cx="211.2" cy="215.3" r="0.81" fill="#e0ffff"/><circle cx="209.8" cy="212.4" r="0.98" fill="#e0ffff"/><circle cx="208.2" cy="211.3" r="0.91" fill="#e0ffff"/><circle cx="215.4" cy="210.5" r="1.21" fill="#e0ffff"/><circle cx="217.3" cy="215.8" r="1.04" fill="#e0ffff"/><circle cx="215.6" cy="211.9" r="1.02" fill="#e0ffff"/></g>
<circle cx="198.6" cy="226.3" r="9.0" fill="url(#glow)" opacity="0.59"/>
<circle cx="198.6" cy="226.3" r="5.4" fill="#7cc4cc" opacity="0.47" filter="url(#bl2)"/>
<g opacity="0.81" filter="url(#bl1)"><circle cx="198.0" cy="224.2" r="0.95" fill="#e0ffff"/><circle cx="196.3" cy="221.7" r="0.98" fill="#e0ffff"/><circle cx="199.9" cy="229.2" r="1.34" fill="#e0ffff"/><circle cx="201.1" cy="229.7" r="1.01" fill="#e0ffff"/><circle cx="197.1" cy="224.4" r="1.14" fill="#e0ffff"/><circle cx="202.3" cy="223.1" r="1.15" fill="#e0ffff"/><circle cx="194.6" cy="226.2" r="0.86" fill="#e0ffff"/><circle cx="200.9" cy="222.6" r="1.05" fill="#e0ffff"/><circle cx="196.9" cy="223.4" r="1.01" fill="#e0ffff"/><circle cx="199.1" cy="230.4" r="1.12" fill="#e0ffff"/><circle cx="197.7" cy="226.2" r="1.15" fill="#e0ffff"/><circle cx="194.8" cy="227.6" r="1.13" fill="#e0ffff"/><circle cx="200.5" cy="225.4" r="1.06" fill="#e0ffff"/><circle cx="203.1" cy="226.1" r="0.97" fill="#e0ffff"/><circle cx="198.2" cy="221.1" r="1.02" fill="#e0ffff"/><circle cx="199.9" cy="224.9" r="1.34" fill="#e0ffff"/><circle cx="196.0" cy="226.4" r="1.26" fill="#e0ffff"/><circle cx="195.6" cy="222.2" r="1.26" fill="#e0ffff"/><circle cx="199.7" cy="222.7" r="1.35" fill="#e0ffff"/><circle cx="203.1" cy="228.3" r="1.19" fill="#e0ffff"/><circle cx="198.6" cy="231.0" r="1.05" fill="#e0ffff"/><circle cx="193.8" cy="225.2" r="0.91" fill="#e0ffff"/></g>
<circle cx="207" cy="243.2" r="9.8" fill="url(#glow)" opacity="0.59"/>
<circle cx="207" cy="243.2" r="5.9" fill="#7cc4cc" opacity="0.47" filter="url(#bl2)"/>
<g opacity="0.81" filter="url(#bl1)"><circle cx="206.2" cy="247.7" r="0.84" fill="#e0ffff"/><circle cx="202.2" cy="241.5" r="1.07" fill="#e0ffff"/><circle cx="207.3" cy="248.3" r="1.27" fill="#e0ffff"/><circle cx="207.6" cy="239.0" r="1.30" fill="#e0ffff"/><circle cx="207.6" cy="241.1" r="1.00" fill="#e0ffff"/><circle cx="207.9" cy="243.8" r="0.99" fill="#e0ffff"/><circle cx="210.4" cy="239.3" r="0.86" fill="#e0ffff"/><circle cx="208.5" cy="246.4" r="1.27" fill="#e0ffff"/><circle cx="203.0" cy="239.6" r="0.84" fill="#e0ffff"/><circle cx="209.6" cy="243.0" r="1.15" fill="#e0ffff"/><circle cx="210.5" cy="239.8" r="0.91" fill="#e0ffff"/><circle cx="205.2" cy="239.9" r="0.81" fill="#e0ffff"/><circle cx="205.3" cy="245.9" r="1.15" fill="#e0ffff"/><circle cx="206.2" cy="247.6" r="1.18" fill="#e0ffff"/><circle cx="207.9" cy="245.1" r="1.18" fill="#e0ffff"/><circle cx="205.0" cy="243.6" r="0.86" fill="#e0ffff"/><circle cx="211.2" cy="241.6" r="1.00" fill="#e0ffff"/><circle cx="208.9" cy="248.6" r="1.18" fill="#e0ffff"/><circle cx="206.7" cy="239.8" r="0.97" fill="#e0ffff"/><circle cx="205.2" cy="244.4" r="1.15" fill="#e0ffff"/><circle cx="202.4" cy="245.6" r="1.02" fill="#e0ffff"/><circle cx="203.1" cy="244.3" r="1.32" fill="#e0ffff"/></g>
<circle cx="231" cy="221.7" r="3.0" fill="url(#glow)" opacity="0.35"/>
<circle cx="231" cy="221.7" r="1.8" fill="#7cc4cc" opacity="0.28" filter="url(#bl2)"/>
</g>
<rect x="157.4" y="157.4" width="74.2" height="105.2" fill="none" stroke="#04141a" stroke-width="0.8" opacity="0.5"/>
<clipPath id="c244_5_157"><rect x="244.5" y="157" width="75.5" height="106"/></clipPath>
<rect x="244.5" y="157" width="75.5" height="106" fill="#042132"/>
<g clip-path="url(#c244_5_157)">
<rect x="244.5" y="157" width="75.5" height="106" filter="url(#noise)" opacity="0.18"/>
<circle cx="290" cy="171.2" r="9.0" fill="url(#glow)" opacity="0.42"/>
<circle cx="290" cy="171.2" r="5.4" fill="#7cc4cc" opacity="0.33" filter="url(#bl2)"/>
<g opacity="0.57" filter="url(#bl1)"><circle cx="287.5" cy="174.8" r="0.93" fill="#e0ffff"/><circle cx="287.5" cy="169.9" r="1.28" fill="#e0ffff"/><circle cx="288.9" cy="176.0" r="1.17" fill="#e0ffff"/><circle cx="285.1" cy="172.6" r="1.01" fill="#e0ffff"/><circle cx="289.8" cy="167.1" r="1.05" fill="#e0ffff"/><circle cx="293.1" cy="172.5" r="0.95" fill="#e0ffff"/><circle cx="285.2" cy="173.1" r="0.96" fill="#e0ffff"/><circle cx="288.5" cy="167.1" r="0.93" fill="#e0ffff"/><circle cx="288.4" cy="172.2" r="1.29" fill="#e0ffff"/><circle cx="290.0" cy="174.6" r="0.99" fill="#e0ffff"/><circle cx="292.1" cy="166.8" r="1.12" fill="#e0ffff"/><circle cx="288.4" cy="170.7" r="1.29" fill="#e0ffff"/><circle cx="292.7" cy="172.9" r="1.01" fill="#e0ffff"/><circle cx="289.3" cy="166.9" r="0.99" fill="#e0ffff"/><circle cx="294.1" cy="168.1" r="0.81" fill="#e0ffff"/><circle cx="287.6" cy="168.5" r="1.00" fill="#e0ffff"/><circle cx="287.1" cy="171.9" r="1.17" fill="#e0ffff"/><circle cx="285.9" cy="168.0" r="1.34" fill="#e0ffff"/><circle cx="293.3" cy="171.0" r="1.26" fill="#e0ffff"/><circle cx="287.4" cy="167.6" r="1.35" fill="#e0ffff"/><circle cx="293.3" cy="172.7" r="1.02" fill="#e0ffff"/><circle cx="288.6" cy="169.2" r="1.34" fill="#e0ffff"/></g>
<circle cx="263.5" cy="190.6" r="9.8" fill="url(#glow)" opacity="0.42"/>
<circle cx="263.5" cy="190.6" r="5.9" fill="#7cc4cc" opacity="0.33" filter="url(#bl2)"/>
<g opacity="0.57" filter="url(#bl1)"><circle cx="264.4" cy="194.0" r="0.88" fill="#e0ffff"/><circle cx="259.6" cy="193.6" r="0.85" fill="#e0ffff"/><circle cx="265.8" cy="194.6" r="1.14" fill="#e0ffff"/><circle cx="263.4" cy="187.7" r="1.25" fill="#e0ffff"/><circle cx="262.9" cy="185.6" r="0.87" fill="#e0ffff"/><circle cx="262.8" cy="190.7" r="1.27" fill="#e0ffff"/><circle cx="268.6" cy="188.8" r="0.81" fill="#e0ffff"/><circle cx="261.0" cy="194.0" r="1.09" fill="#e0ffff"/><circle cx="267.4" cy="193.9" r="0.97" fill="#e0ffff"/><circle cx="261.5" cy="190.5" r="1.11" fill="#e0ffff"/><circle cx="264.7" cy="191.8" r="1.08" fill="#e0ffff"/><circle cx="262.1" cy="195.5" r="0.94" fill="#e0ffff"/><circle cx="262.4" cy="191.3" r="0.92" fill="#e0ffff"/><circle cx="259.4" cy="191.9" r="1.05" fill="#e0ffff"/><circle cx="264.6" cy="189.1" r="1.27" fill="#e0ffff"/><circle cx="266.7" cy="195.3" r="1.09" fill="#e0ffff"/><circle cx="259.8" cy="193.1" r="1.28" fill="#e0ffff"/><circle cx="267.1" cy="189.8" r="0.81" fill="#e0ffff"/><circle cx="266.4" cy="194.9" r="1.20" fill="#e0ffff"/><circle cx="263.0" cy="188.4" r="1.09" fill="#e0ffff"/><circle cx="265.4" cy="190.9" r="0.97" fill="#e0ffff"/><circle cx="268.0" cy="189.6" r="1.27" fill="#e0ffff"/></g>
<circle cx="311" cy="219.8" r="9.8" fill="url(#glow)" opacity="0.48"/>
<circle cx="311" cy="219.8" r="5.9" fill="#7cc4cc" opacity="0.37" filter="url(#bl2)"/>
<g opacity="0.65" filter="url(#bl1)"><circle cx="314.5" cy="220.9" r="0.84" fill="#e0ffff"/><circle cx="310.9" cy="221.7" r="1.31" fill="#e0ffff"/><circle cx="309.1" cy="223.3" r="1.16" fill="#e0ffff"/><circle cx="315.2" cy="216.2" r="1.11" fill="#e0ffff"/><circle cx="305.6" cy="219.8" r="1.02" fill="#e0ffff"/><circle cx="309.5" cy="224.5" r="0.94" fill="#e0ffff"/><circle cx="308.5" cy="222.6" r="1.06" fill="#e0ffff"/><circle cx="308.6" cy="222.7" r="1.05" fill="#e0ffff"/><circle cx="316.0" cy="221.4" r="0.83" fill="#e0ffff"/><circle cx="306.8" cy="219.1" r="1.02" fill="#e0ffff"/><circle cx="311.3" cy="221.6" r="1.00" fill="#e0ffff"/><circle cx="309.4" cy="223.5" r="0.93" fill="#e0ffff"/><circle cx="311.0" cy="215.8" r="0.80" fill="#e0ffff"/><circle cx="306.3" cy="222.9" r="0.80" fill="#e0ffff"/><circle cx="306.3" cy="216.7" r="1.00" fill="#e0ffff"/><circle cx="308.2" cy="217.8" r="0.97" fill="#e0ffff"/><circle cx="307.6" cy="217.0" r="0.97" fill="#e0ffff"/><circle cx="306.9" cy="219.9" r="1.21" fill="#e0ffff"/><circle cx="312.6" cy="220.4" r="0.94" fill="#e0ffff"/><circle cx="310.4" cy="224.9" r="1.03" fill="#e0ffff"/><circle cx="313.3" cy="217.0" r="0.96" fill="#e0ffff"/><circle cx="310.3" cy="218.3" r="1.34" fill="#e0ffff"/></g>
<circle cx="265" cy="241.7" r="9.8" fill="url(#glow)" opacity="0.42"/>
<circle cx="265" cy="241.7" r="5.9" fill="#7cc4cc" opacity="0.33" filter="url(#bl2)"/>
<g opacity="0.57" filter="url(#bl1)"><circle cx="266.6" cy="238.8" r="0.97" fill="#e0ffff"/><circle cx="267.1" cy="237.1" r="1.15" fill="#e0ffff"/><circle cx="269.7" cy="243.4" r="0.83" fill="#e0ffff"/><circle cx="262.0" cy="238.7" r="1.31" fill="#e0ffff"/><circle cx="264.4" cy="241.0" r="1.31" fill="#e0ffff"/><circle cx="265.1" cy="237.3" r="0.80" fill="#e0ffff"/><circle cx="264.7" cy="238.0" r="1.17" fill="#e0ffff"/><circle cx="270.4" cy="241.1" r="0.84" fill="#e0ffff"/><circle cx="265.7" cy="238.0" r="1.21" fill="#e0ffff"/><circle cx="262.2" cy="244.4" r="1.04" fill="#e0ffff"/><circle cx="267.4" cy="243.9" r="1.20" fill="#e0ffff"/><circle cx="266.8" cy="242.5" r="1.26" fill="#e0ffff"/><circle cx="262.9" cy="238.0" r="0.86" fill="#e0ffff"/><circle cx="267.3" cy="243.9" r="1.32" fill="#e0ffff"/><circle cx="259.9" cy="239.7" r="0.92" fill="#e0ffff"/><circle cx="261.4" cy="243.8" r="1.26" fill="#e0ffff"/><circle cx="268.8" cy="245.4" r="1.06" fill="#e0ffff"/><circle cx="268.7" cy="242.4" r="1.01" fill="#e0ffff"/><circle cx="262.5" cy="236.8" r="1.07" fill="#e0ffff"/><circle cx="263.7" cy="238.4" r="1.23" fill="#e0ffff"/><circle cx="268.9" cy="244.7" r="0.89" fill="#e0ffff"/><circle cx="262.8" cy="240.4" r="0.99" fill="#e0ffff"/></g>
</g>
<rect x="244.9" y="157.4" width="74.7" height="105.2" fill="none" stroke="#04141a" stroke-width="0.8" opacity="0.5"/>
<polygon points="79.5,73.5 88.5,77.3 79.5,81.2" fill="#fff" stroke="#020a0c" stroke-width="1.3" stroke-linejoin="round"/>
<polygon points="106.5,130 115.8,134.2 106.5,138.5" fill="#fff" stroke="#020a0c" stroke-width="1.3" stroke-linejoin="round"/>
<rect x="131.8" y="145" width="7" height="2.2" fill="#fff"/>
<text transform="translate(7.3,24.8) scale(1.0,1.0)" font-size="34">A</text>
<text transform="translate(7.2,290.5) scale(0.97,1.0)" font-size="33">B</text>
<text transform="translate(269.2,290.8) scale(0.95,1.0)" font-size="31">C</text>
<text transform="translate(5.9,534) scale(0.93,1.0)" font-size="33">D</text>
<text transform="translate(270.2,532.8) scale(0.92,1.0)" font-size="33">E</text>
<text transform="translate(9.3,780.6) scale(1.0,1.0)" font-size="34">F</text>
<text x="78.8" y="17.5" font-size="16.8" text-anchor="start" >adult</text>
<text x="79.3" y="37.5" font-size="16.8" text-anchor="start" >mouse</text>
<text x="196.3" y="37.8" font-size="17" text-anchor="middle" >1°</text>
<text x="283.5" y="37.8" font-size="17" text-anchor="middle" >2°</text>
<text x="372.3" y="37.8" font-size="17" text-anchor="middle" >3°</text>
<text x="461.2" y="37.8" font-size="17" text-anchor="middle" >4°</text>
<text x="6.3" y="55.8" font-size="16.2" text-anchor="start" >mTR+/+</text>
<text x="65.9" y="169.8" font-size="16.5" text-anchor="end" >mTR-/-</text>
<text x="38.2" y="800.8" font-size="16.6" text-anchor="start" >mTR+/+</text>
<text x="108.3" y="800.5" font-size="16.4" text-anchor="start" >HSC</text>
<text x="284" y="802.8" font-size="16.3" text-anchor="start" >mTR-/-</text>
<text x="346.1" y="802.8" font-size="16.4" text-anchor="start" >HSC</text>
<rect x="77.2" y="301.5" width="177.8" height="185.75" fill="#fff"/>
<line x1="121.4" y1="301.5" x2="121.4" y2="492.25" stroke="#000" stroke-width="1.6"/>
<line x1="166.3" y1="301.5" x2="166.3" y2="492.25" stroke="#000" stroke-width="1.6"/>
<line x1="210.4" y1="301.5" x2="210.4" y2="492.25" stroke="#000" stroke-width="1.6"/>
<line x1="72.7" y1="320.9" x2="255" y2="320.9" stroke="#000" stroke-width="1.6"/>
<line x1="72.7" y1="338.1" x2="255" y2="338.1" stroke="#000" stroke-width="1.6"/>
<line x1="72.7" y1="355.2" x2="255" y2="355.2" stroke="#000" stroke-width="1.6"/>
<line x1="72.7" y1="371.25" x2="255" y2="371.25" stroke="#000" stroke-width="1.6"/>
<line x1="72.7" y1="388" x2="255" y2="388" stroke="#000" stroke-width="1.6"/>
<line x1="72.7" y1="404.75" x2="255" y2="404.75" stroke="#000" stroke-width="1.6"/>
<line x1="72.7" y1="421.9" x2="255" y2="421.9" stroke="#000" stroke-width="1.6"/>
<line x1="72.7" y1="438.75" x2="255" y2="438.75" stroke="#000" stroke-width="1.6"/>
<line x1="72.7" y1="454.75" x2="255" y2="454.75" stroke="#000" stroke-width="1.6"/>
<line x1="72.7" y1="471.9" x2="255" y2="471.9" stroke="#000" stroke-width="1.6"/>
<line x1="72.7" y1="301.5" x2="77.2" y2="301.5" stroke="#000" stroke-width="1.6"/>
<line x1="72.7" y1="487.25" x2="77.2" y2="487.25" stroke="#000" stroke-width="1.6"/>
<line x1="255" y1="487.25" x2="255" y2="492.25" stroke="#000" stroke-width="2"/>
<rect x="77.2" y="301.5" width="177.8" height="185.75" fill="none" stroke="#000" stroke-width="2.4"/>
<text transform="translate(71.3,310.0) scale(1,0.95)" font-size="16" text-anchor="end">1100</text>
<text transform="translate(71.3,329.0) scale(1,0.95)" font-size="16" text-anchor="end">1000</text>
<text transform="translate(71.3,344.7) scale(1,0.95)" font-size="16" text-anchor="end">900</text>
<text transform="translate(71.3,362.5) scale(1,0.95)" font-size="16" text-anchor="end">800</text>
<text transform="translate(71.3,378.9) scale(1,0.95)" font-size="16" text-anchor="end">700</text>
<text transform="translate(71.3,396.3) scale(1,0.95)" font-size="16" text-anchor="end">600</text>
<text transform="translate(71.3,412.7) scale(1,0.95)" font-size="16" text-anchor="end">500</text>
<text transform="translate(71.3,429.3) scale(1,0.95)" font-size="16" text-anchor="end">400</text>
<text transform="translate(71.3,446.2) scale(1,0.95)" font-size="16" text-anchor="end">300</text>
<text transform="translate(71.3,463.1) scale(1,0.95)" font-size="16" text-anchor="end">200</text>
<text transform="translate(71.3,479.6) scale(1,0.95)" font-size="16" text-anchor="end">100</text>
<text transform="translate(68.7,495.4) scale(1,0.95)" font-size="16" text-anchor="end">0</text>
<text transform="translate(119.3,507.3) scale(1,1.0)" font-size="15.5" text-anchor="middle">1</text>
<text transform="translate(165.8,507.3) scale(1,1.0)" font-size="15.5" text-anchor="middle">2</text>
<text transform="translate(210.0,507.3) scale(1,1.0)" font-size="15.5" text-anchor="middle">3</text>
<text transform="translate(252.5,507.3) scale(1,1.0)" font-size="15.5" text-anchor="middle">4</text>
<text x="103" y="524.2" font-size="16.7" textLength="153.5" lengthAdjust="spacingAndGlyphs">Transplantation no.</text>
<text transform="translate(30.5,488.8) rotate(-90)" x="0" y="0" font-size="17" textLength="182" lengthAdjust="spacingAndGlyphs">Signal intensity (units)</text>
<line x1="78.3" y1="320.0" x2="78.3" y2="329.0" stroke="#111" stroke-width="1"/><line x1="76.3" y1="320.0" x2="80.3" y2="320.0" stroke="#111" stroke-width="1.1"/><line x1="76.3" y1="329.0" x2="80.3" y2="329.0" stroke="#111" stroke-width="1.1"/>
<line x1="122.7" y1="335.0" x2="122.7" y2="344.0" stroke="#111" stroke-width="1"/><line x1="120.7" y1="335.0" x2="124.7" y2="335.0" stroke="#111" stroke-width="1.1"/><line x1="120.7" y1="344.0" x2="124.7" y2="344.0" stroke="#111" stroke-width="1.1"/>
<line x1="168.6" y1="360.0" x2="168.6" y2="371.0" stroke="#111" stroke-width="1"/><line x1="166.6" y1="360.0" x2="170.6" y2="360.0" stroke="#111" stroke-width="1.1"/><line x1="166.6" y1="371.0" x2="170.6" y2="371.0" stroke="#111" stroke-width="1.1"/>
<line x1="211.7" y1="379.5" x2="211.7" y2="388.0" stroke="#111" stroke-width="1"/><line x1="209.7" y1="379.5" x2="213.7" y2="379.5" stroke="#111" stroke-width="1.1"/><line x1="209.7" y1="388.0" x2="213.7" y2="388.0" stroke="#111" stroke-width="1.1"/>
<line x1="255.2" y1="381.0" x2="255.2" y2="389.0" stroke="#111" stroke-width="1"/><line x1="253.2" y1="381.0" x2="257.2" y2="381.0" stroke="#111" stroke-width="1.1"/><line x1="253.2" y1="389.0" x2="257.2" y2="389.0" stroke="#111" stroke-width="1.1"/>
<line x1="78.9" y1="336.0" x2="78.9" y2="342.5" stroke="#111" stroke-width="1"/><line x1="76.9" y1="336.0" x2="80.9" y2="336.0" stroke="#111" stroke-width="1.1"/><line x1="76.9" y1="342.5" x2="80.9" y2="342.5" stroke="#111" stroke-width="1.1"/>
<line x1="123.7" y1="378.0" x2="123.7" y2="389.0" stroke="#111" stroke-width="1"/><line x1="121.7" y1="378.0" x2="125.7" y2="378.0" stroke="#111" stroke-width="1.1"/><line x1="121.7" y1="389.0" x2="125.7" y2="389.0" stroke="#111" stroke-width="1.1"/>
<line x1="168.5" y1="408.0" x2="168.5" y2="417.0" stroke="#111" stroke-width="1"/><line x1="166.5" y1="408.0" x2="170.5" y2="408.0" stroke="#111" stroke-width="1.1"/><line x1="166.5" y1="417.0" x2="170.5" y2="417.0" stroke="#111" stroke-width="1.1"/>
<polyline points="78.0,329.3 122.5,344.1 168.5,370.9 211.5,388.1 254.6,389.0" fill="none" stroke="#1a2a9e" stroke-width="2" stroke-linejoin="round" opacity="1"/>
<polyline points="78.7,336.4 123.5,378.3 168.2,408.0" fill="none" stroke="#1ec81e" stroke-width="2.1" stroke-linejoin="round" opacity="1"/>
<rect x="73.5" y="324.8" width="9" height="9" rx="1" fill="#1234ee" stroke="#0c1a80" stroke-width="0.8"/>
<rect x="118.0" y="339.6" width="9" height="9" rx="1" fill="#1234ee" stroke="#0c1a80" stroke-width="0.8"/>
<rect x="164.0" y="366.4" width="9" height="9" rx="1" fill="#1234ee" stroke="#0c1a80" stroke-width="0.8"/>
<rect x="207.0" y="383.6" width="9" height="9" rx="1" fill="#1234ee" stroke="#0c1a80" stroke-width="0.8"/>
<rect x="250.1" y="384.5" width="9" height="9" rx="1" fill="#1234ee" stroke="#0c1a80" stroke-width="0.8"/>
<circle cx="78.7" cy="336.4" r="4.7" fill="#1ec81e"/>
<circle cx="123.5" cy="378.3" r="4.7" fill="#1ec81e"/>
<circle cx="168.2" cy="408.0" r="4.7" fill="#1ec81e"/>
<rect x="79.8" y="442.9" width="70.39999999999999" height="39.30000000000001" fill="#fff" stroke="#000" stroke-width="1.3"/>
<line x1="82.8" y1="455.5" x2="100.6" y2="455.5" stroke="#1a2a9e" stroke-width="2"/>
<rect x="88.0" y="451.7" width="7.5" height="7.5" rx="1" fill="#1234ee" stroke="#0c1a80" stroke-width="0.8"/>
<line x1="82.8" y1="474.1" x2="100.6" y2="474.1" stroke="#1ec81e" stroke-width="2"/>
<circle cx="91.8" cy="474.1" r="4" fill="#1ec81e"/>
<text x="103.0" y="460.1" font-size="12">mTR+/+</text>
<text x="103.0" y="478.4" font-size="12">mTR-/-</text>
<rect x="321.2" y="302" width="175.5" height="186.3" fill="#fff"/>
<line x1="357" y1="302" x2="357" y2="493.3" stroke="#000" stroke-width="1.6"/>
<line x1="391.6" y1="302" x2="391.6" y2="493.3" stroke="#000" stroke-width="1.6"/>
<line x1="427" y1="302" x2="427" y2="493.3" stroke="#000" stroke-width="1.6"/>
<line x1="462" y1="302" x2="462" y2="493.3" stroke="#000" stroke-width="1.6"/>
<line x1="316.7" y1="332.8" x2="496.7" y2="332.8" stroke="#000" stroke-width="1.6"/>
<line x1="316.7" y1="363.7" x2="496.7" y2="363.7" stroke="#000" stroke-width="1.6"/>
<line x1="316.7" y1="395.2" x2="496.7" y2="395.2" stroke="#000" stroke-width="1.6"/>
<line x1="316.7" y1="425.7" x2="496.7" y2="425.7" stroke="#000" stroke-width="1.6"/>
<line x1="316.7" y1="457.1" x2="496.7" y2="457.1" stroke="#000" stroke-width="1.6"/>
<line x1="316.7" y1="302" x2="321.2" y2="302" stroke="#000" stroke-width="1.6"/>
<line x1="316.7" y1="488.3" x2="321.2" y2="488.3" stroke="#000" stroke-width="1.6"/>
<line x1="496.7" y1="488.3" x2="496.7" y2="493.3" stroke="#000" stroke-width="2"/>
<rect x="321.2" y="302" width="175.5" height="186.3" fill="none" stroke="#000" stroke-width="2.4"/>
<text transform="translate(316.8,308.3) scale(1,1.0)" font-size="16" text-anchor="end">3.0</text>
<text transform="translate(316.8,338.0) scale(1,1.0)" font-size="16" text-anchor="end">2.5</text>
<text transform="translate(316.8,370.3) scale(1,1.0)" font-size="16" text-anchor="end">2.0</text>
<text transform="translate(316.8,400.1) scale(1,1.0)" font-size="16" text-anchor="end">1.5</text>
<text transform="translate(316.8,431.4) scale(1,1.0)" font-size="16" text-anchor="end">1.0</text>
<text transform="translate(316.8,462.6) scale(1,1.0)" font-size="16" text-anchor="end">0.5</text>
<text transform="translate(316.1,495.3) scale(1,1.0)" font-size="16" text-anchor="end">0</text>
<text transform="translate(356.5,507.8) scale(1,1.0)" font-size="15.5" text-anchor="middle">1</text>
<text transform="translate(391.6,507.8) scale(1,1.0)" font-size="15.5" text-anchor="middle">2</text>
<text transform="translate(426.4,507.8) scale(1,1.0)" font-size="15.5" text-anchor="middle">3</text>
<text transform="translate(461.8,507.8) scale(1,1.0)" font-size="15.5" text-anchor="middle">4</text>
<text transform="translate(495.6,507.8) scale(1,1.0)" font-size="15.5" text-anchor="middle">5</text>
<text x="340.5" y="524" font-size="16.7" textLength="152.5" lengthAdjust="spacingAndGlyphs">Transplantation no.</text>
<text transform="translate(286.6,492.8) rotate(-90)" x="0" y="0" font-size="17" textLength="192.5" lengthAdjust="spacingAndGlyphs">HSC frequency (% x100)</text>
<line x1="323.2" y1="362.0" x2="323.2" y2="415.0" stroke="#111" stroke-width="1"/><line x1="321.2" y1="362.0" x2="325.2" y2="362.0" stroke="#111" stroke-width="1.1"/><line x1="321.2" y1="415.0" x2="325.2" y2="415.0" stroke="#111" stroke-width="1.1"/>
<line x1="358.3" y1="366.4" x2="358.3" y2="386.0" stroke="#111" stroke-width="1"/><line x1="356.3" y1="366.4" x2="360.3" y2="366.4" stroke="#111" stroke-width="1.1"/><line x1="356.3" y1="386.0" x2="360.3" y2="386.0" stroke="#111" stroke-width="1.1"/>
<line x1="392.3" y1="379.0" x2="392.3" y2="406.6" stroke="#111" stroke-width="1"/><line x1="390.3" y1="379.0" x2="394.3" y2="379.0" stroke="#111" stroke-width="1.1"/><line x1="390.3" y1="406.6" x2="394.3" y2="406.6" stroke="#111" stroke-width="1.1"/>
<line x1="427.8" y1="358.0" x2="427.8" y2="375.0" stroke="#111" stroke-width="1"/><line x1="425.8" y1="358.0" x2="429.8" y2="358.0" stroke="#111" stroke-width="1.1"/><line x1="425.8" y1="375.0" x2="429.8" y2="375.0" stroke="#111" stroke-width="1.1"/>
<line x1="461.7" y1="365.4" x2="461.7" y2="381.0" stroke="#111" stroke-width="1"/><line x1="459.7" y1="365.4" x2="463.7" y2="365.4" stroke="#111" stroke-width="1.1"/><line x1="459.7" y1="381.0" x2="463.7" y2="381.0" stroke="#111" stroke-width="1.1"/>
<line x1="495.5" y1="474.0" x2="495.5" y2="482.0" stroke="#111" stroke-width="1"/><line x1="493.5" y1="474.0" x2="497.5" y2="474.0" stroke="#111" stroke-width="1.1"/><line x1="493.5" y1="482.0" x2="497.5" y2="482.0" stroke="#111" stroke-width="1.1"/>
<line x1="429.6" y1="484.0" x2="429.6" y2="495.5" stroke="#111" stroke-width="1"/><line x1="427.6" y1="484.0" x2="431.6" y2="484.0" stroke="#111" stroke-width="1.1"/><line x1="427.6" y1="495.5" x2="431.6" y2="495.5" stroke="#111" stroke-width="1.1"/>
<polyline points="323.1,374.9 357.6,386.1 392.1,395.0 427.7,375.5 461.5,381.3 495.4,482.3" fill="none" stroke="#1a2a9e" stroke-width="2" stroke-linejoin="round" opacity="1"/>
<polyline points="323.1,395.0 358.2,381.7 392.9,386.5 427.7,484.0" fill="none" stroke="#1ec81e" stroke-width="1.9" stroke-linejoin="round" opacity="1"/>
<rect x="318.6" y="370.4" width="9" height="9" rx="1" fill="#1234ee" stroke="#0c1a80" stroke-width="0.8"/>
<rect x="353.1" y="381.6" width="9" height="9" rx="1" fill="#1234ee" stroke="#0c1a80" stroke-width="0.8"/>
<rect x="387.6" y="390.5" width="9" height="9" rx="1" fill="#1234ee" stroke="#0c1a80" stroke-width="0.8"/>
<rect x="423.2" y="371.0" width="9" height="9" rx="1" fill="#1234ee" stroke="#0c1a80" stroke-width="0.8"/>
<rect x="457.0" y="376.8" width="9" height="9" rx="1" fill="#1234ee" stroke="#0c1a80" stroke-width="0.8"/>
<rect x="490.9" y="477.8" width="9" height="9" rx="1" fill="#1234ee" stroke="#0c1a80" stroke-width="0.8"/>
<circle cx="323.1" cy="395.0" r="4.7" fill="#1ec81e"/>
<circle cx="358.2" cy="381.7" r="4.7" fill="#1ec81e"/>
<circle cx="392.9" cy="386.5" r="4.7" fill="#1ec81e"/>
<circle cx="427.7" cy="484.0" r="4.7" fill="#1ec81e"/>
<rect x="327.3" y="443" width="70.19999999999999" height="38.25" fill="#fff" stroke="#000" stroke-width="1.3"/>
<line x1="330.3" y1="455.2" x2="348.1" y2="455.2" stroke="#1a2a9e" stroke-width="2"/>
<rect x="335.6" y="451.5" width="7.5" height="7.5" rx="1" fill="#1234ee" stroke="#0c1a80" stroke-width="0.8"/>
<line x1="330.3" y1="473.4" x2="348.1" y2="473.4" stroke="#1ec81e" stroke-width="2"/>
<circle cx="339.3" cy="473.4" r="4" fill="#1ec81e"/>
<text x="350.5" y="459.8" font-size="12">mTR+/+</text>
<text x="350.5" y="477.7" font-size="12">mTR-/-</text>
<rect x="79" y="545" width="176" height="186.5" fill="#fff"/>
<line x1="123.3" y1="545" x2="123.3" y2="736.5" stroke="#000" stroke-width="1.6"/>
<line x1="167.7" y1="545" x2="167.7" y2="736.5" stroke="#000" stroke-width="1.6"/>
<line x1="211.3" y1="545" x2="211.3" y2="736.5" stroke="#000" stroke-width="1.6"/>
<line x1="74.5" y1="561.3" x2="255" y2="561.3" stroke="#000" stroke-width="1.6"/>
<line x1="74.5" y1="578.5" x2="255" y2="578.5" stroke="#000" stroke-width="1.6"/>
<line x1="74.5" y1="595.8" x2="255" y2="595.8" stroke="#000" stroke-width="1.6"/>
<line x1="74.5" y1="612.1" x2="255" y2="612.1" stroke="#000" stroke-width="1.6"/>
<line x1="74.5" y1="628.5" x2="255" y2="628.5" stroke="#000" stroke-width="1.6"/>
<line x1="74.5" y1="644.8" x2="255" y2="644.8" stroke="#000" stroke-width="1.6"/>
<line x1="74.5" y1="662.9" x2="255" y2="662.9" stroke="#000" stroke-width="1.6"/>
<line x1="74.5" y1="680.4" x2="255" y2="680.4" stroke="#000" stroke-width="1.6"/>
<line x1="74.5" y1="696.5" x2="255" y2="696.5" stroke="#000" stroke-width="1.6"/>
<line x1="74.5" y1="713.2" x2="255" y2="713.2" stroke="#000" stroke-width="1.6"/>
<line x1="74.5" y1="545" x2="79" y2="545" stroke="#000" stroke-width="1.6"/>
<line x1="74.5" y1="731.5" x2="79" y2="731.5" stroke="#000" stroke-width="1.6"/>
<line x1="255" y1="731.5" x2="255" y2="736.5" stroke="#000" stroke-width="2"/>
<rect x="79" y="545" width="176" height="186.5" fill="none" stroke="#000" stroke-width="2.4"/>
<text transform="translate(72.1,551.2) scale(1,0.86)" font-size="16" text-anchor="end">1100</text>
<text transform="translate(71.2,566.7) scale(1,0.86)" font-size="16" text-anchor="end">1000</text>
<text transform="translate(71.2,584.6) scale(1,0.86)" font-size="16" text-anchor="end">900</text>
<text transform="translate(71.2,602.0) scale(1,0.86)" font-size="16" text-anchor="end">800</text>
<text transform="translate(71.2,617.8) scale(1,0.86)" font-size="16" text-anchor="end">700</text>
<text transform="translate(71.2,635.1) scale(1,0.86)" font-size="16" text-anchor="end">600</text>
<text transform="translate(71.2,651.7) scale(1,0.86)" font-size="16" text-anchor="end">500</text>
<text transform="translate(71.2,669.0) scale(1,0.86)" font-size="16" text-anchor="end">400</text>
<text transform="translate(71.2,685.5) scale(1,0.86)" font-size="16" text-anchor="end">300</text>
<text transform="translate(71.2,702.0) scale(1,0.86)" font-size="16" text-anchor="end">200</text>
<text transform="translate(71.2,718.6) scale(1,0.86)" font-size="16" text-anchor="end">100</text>
<text transform="translate(71.2,737.4) scale(1,0.86)" font-size="16" text-anchor="end">0</text>
<text transform="translate(122.3,749.5) scale(1,1.0)" font-size="15.5" text-anchor="middle">1</text>
<text transform="translate(166.3,749.5) scale(1,1.0)" font-size="15.5" text-anchor="middle">2</text>
<text transform="translate(209.4,749.5) scale(1,1.0)" font-size="15.5" text-anchor="middle">3</text>
<text transform="translate(254.3,749.5) scale(1,1.0)" font-size="15.5" text-anchor="middle">4</text>
<text x="99.5" y="764.3" font-size="16.7" textLength="153.0" lengthAdjust="spacingAndGlyphs">Transplantation no.</text>
<text transform="translate(30.3,732) rotate(-90)" x="0" y="0" font-size="17" textLength="182" lengthAdjust="spacingAndGlyphs">Signal intensity (units)</text>
<line x1="80.3" y1="546.0" x2="80.3" y2="556.0" stroke="#111" stroke-width="1"/><line x1="78.3" y1="546.0" x2="82.3" y2="546.0" stroke="#111" stroke-width="1.1"/><line x1="78.3" y1="556.0" x2="82.3" y2="556.0" stroke="#111" stroke-width="1.1"/>
<line x1="124.1" y1="563.0" x2="124.1" y2="573.0" stroke="#111" stroke-width="1"/><line x1="122.1" y1="563.0" x2="126.1" y2="563.0" stroke="#111" stroke-width="1.1"/><line x1="122.1" y1="573.0" x2="126.1" y2="573.0" stroke="#111" stroke-width="1.1"/>
<line x1="167.8" y1="590.0" x2="167.8" y2="601.0" stroke="#111" stroke-width="1"/><line x1="165.8" y1="590.0" x2="169.8" y2="590.0" stroke="#111" stroke-width="1.1"/><line x1="165.8" y1="601.0" x2="169.8" y2="601.0" stroke="#111" stroke-width="1.1"/>
<line x1="211.6" y1="607.0" x2="211.6" y2="616.0" stroke="#111" stroke-width="1"/><line x1="209.6" y1="607.0" x2="213.6" y2="607.0" stroke="#111" stroke-width="1.1"/><line x1="209.6" y1="616.0" x2="213.6" y2="616.0" stroke="#111" stroke-width="1.1"/>
<line x1="254.7" y1="610.0" x2="254.7" y2="620.0" stroke="#111" stroke-width="1"/><line x1="252.7" y1="610.0" x2="256.7" y2="610.0" stroke="#111" stroke-width="1.1"/><line x1="252.7" y1="620.0" x2="256.7" y2="620.0" stroke="#111" stroke-width="1.1"/>
<line x1="124.7" y1="609.0" x2="124.7" y2="620.0" stroke="#111" stroke-width="1"/><line x1="122.7" y1="609.0" x2="126.7" y2="609.0" stroke="#111" stroke-width="1.1"/><line x1="122.7" y1="620.0" x2="126.7" y2="620.0" stroke="#111" stroke-width="1.1"/>
<line x1="168.5" y1="631.0" x2="168.5" y2="642.0" stroke="#111" stroke-width="1"/><line x1="166.5" y1="631.0" x2="170.5" y2="631.0" stroke="#111" stroke-width="1.1"/><line x1="166.5" y1="642.0" x2="170.5" y2="642.0" stroke="#111" stroke-width="1.1"/>
<line x1="168.6" y1="612.0" x2="168.6" y2="630.0" stroke="#111" stroke-width="1"/><line x1="166.6" y1="612.0" x2="170.6" y2="612.0" stroke="#111" stroke-width="1.1"/><line x1="166.6" y1="630.0" x2="170.6" y2="630.0" stroke="#111" stroke-width="1.1"/>
<line x1="213.6" y1="575.0" x2="213.6" y2="584.0" stroke="#111" stroke-width="1"/><line x1="211.6" y1="575.0" x2="215.6" y2="575.0" stroke="#111" stroke-width="1.1"/><line x1="211.6" y1="584.0" x2="215.6" y2="584.0" stroke="#111" stroke-width="1.1"/>
<line x1="253.0" y1="555.0" x2="253.0" y2="563.0" stroke="#111" stroke-width="1"/><line x1="251.0" y1="555.0" x2="255.0" y2="555.0" stroke="#111" stroke-width="1.1"/><line x1="251.0" y1="563.0" x2="255.0" y2="563.0" stroke="#111" stroke-width="1.1"/>
<polyline points="80.2,555.9 124.0,572.8 167.7,601.3 211.5,616.2 254.6,620.0" fill="none" stroke="#1a2a9e" stroke-width="2" stroke-linejoin="round" opacity="1"/>
<polyline points="80.2,559.5 124.6,608.8 168.4,631.4" fill="none" stroke="#1ec81e" stroke-width="2.0" stroke-linejoin="round" opacity="1"/>
<polyline points="168.4,620.4 213.1,575.6 255.0,555.0" fill="none" stroke="#34cc34" stroke-width="1.7" stroke-linejoin="round" opacity="0.9" stroke-dasharray="4.5,3"/>
<rect x="75.7" y="551.4" width="9" height="9" rx="1" fill="#1234ee" stroke="#0c1a80" stroke-width="0.8"/>
<rect x="119.5" y="568.3" width="9" height="9" rx="1" fill="#1234ee" stroke="#0c1a80" stroke-width="0.8"/>
<rect x="163.2" y="596.8" width="9" height="9" rx="1" fill="#1234ee" stroke="#0c1a80" stroke-width="0.8"/>
<rect x="207.0" y="611.8" width="9" height="9" rx="1" fill="#1234ee" stroke="#0c1a80" stroke-width="0.8"/>
<rect x="250.1" y="615.5" width="9" height="9" rx="1" fill="#1234ee" stroke="#0c1a80" stroke-width="0.8"/>
<circle cx="80.2" cy="559.5" r="4.7" fill="#1ec81e"/>
<circle cx="124.6" cy="608.8" r="4.7" fill="#1ec81e"/>
<circle cx="168.4" cy="631.4" r="4.7" fill="#1ec81e"/>
<circle cx="168.4" cy="620.4" r="4.3" fill="#fff" fill-opacity="0.6" stroke="#1ec81e" stroke-width="1.8"/>
<circle cx="213.1" cy="575.6" r="4.3" fill="#fff" fill-opacity="0.6" stroke="#1ec81e" stroke-width="1.8"/>
<circle cx="255.0" cy="555.0" r="4.3" fill="#fff" fill-opacity="0.6" stroke="#1ec81e" stroke-width="1.8"/>
<rect x="84.8" y="685.8" width="83.7" height="39.80000000000007" fill="#fff" stroke="#000" stroke-width="1.3"/>
<line x1="87.8" y1="698.5" x2="105.6" y2="698.5" stroke="#1a2a9e" stroke-width="2"/>
<rect x="93.0" y="694.8" width="7.5" height="7.5" rx="1" fill="#1234ee" stroke="#0c1a80" stroke-width="0.8"/>
<line x1="87.8" y1="717.4" x2="105.6" y2="717.4" stroke="#1ec81e" stroke-width="2"/>
<circle cx="96.8" cy="717.4" r="4" fill="#1ec81e"/>
<text x="108.0" y="703.1" font-size="11.5">mTERT+/+</text>
<text x="108.0" y="721.7" font-size="11.5">mTERT-/-</text>
<rect x="323.2" y="547.6" width="174.90000000000003" height="186.39999999999998" fill="#fff"/>
<line x1="358.8" y1="547.6" x2="358.8" y2="739" stroke="#000" stroke-width="1.6"/>
<line x1="393.1" y1="547.6" x2="393.1" y2="739" stroke="#000" stroke-width="1.6"/>
<line x1="428" y1="547.6" x2="428" y2="739" stroke="#000" stroke-width="1.6"/>
<line x1="463.8" y1="547.6" x2="463.8" y2="739" stroke="#000" stroke-width="1.6"/>
<line x1="318.7" y1="578.6" x2="498.1" y2="578.6" stroke="#000" stroke-width="1.6"/>
<line x1="318.7" y1="609.3" x2="498.1" y2="609.3" stroke="#000" stroke-width="1.6"/>
<line x1="318.7" y1="640" x2="498.1" y2="640" stroke="#000" stroke-width="1.6"/>
<line x1="318.7" y1="671.2" x2="498.1" y2="671.2" stroke="#000" stroke-width="1.6"/>
<line x1="318.7" y1="702.7" x2="498.1" y2="702.7" stroke="#000" stroke-width="1.6"/>
<line x1="318.7" y1="547.6" x2="323.2" y2="547.6" stroke="#000" stroke-width="1.6"/>
<line x1="318.7" y1="734" x2="323.2" y2="734" stroke="#000" stroke-width="1.6"/>
<line x1="498.1" y1="734" x2="498.1" y2="739" stroke="#000" stroke-width="2"/>
<rect x="323.2" y="547.6" width="174.90000000000003" height="186.39999999999998" fill="none" stroke="#000" stroke-width="2.4"/>
<text transform="translate(317.4,553.9) scale(1,1.0)" font-size="15.8" text-anchor="end">3.0</text>
<text transform="translate(317.4,583.7) scale(1,1.0)" font-size="15.8" text-anchor="end">2.5</text>
<text transform="translate(317.4,616.5) scale(1,1.0)" font-size="15.8" text-anchor="end">2.0</text>
<text transform="translate(317.4,646.4) scale(1,1.0)" font-size="15.8" text-anchor="end">1.5</text>
<text transform="translate(317.4,677.2) scale(1,1.0)" font-size="15.8" text-anchor="end">1.0</text>
<text transform="translate(317.4,709.0) scale(1,1.0)" font-size="15.8" text-anchor="end">0.5</text>
<text transform="translate(317.4,742.8) scale(1,1.0)" font-size="15.8" text-anchor="end">0</text>
<text transform="translate(356.6,752.3) scale(1,1.0)" font-size="15.5" text-anchor="middle">1</text>
<text transform="translate(392.6,752.3) scale(1,1.0)" font-size="15.5" text-anchor="middle">2</text>
<text transform="translate(427.9,752.3) scale(1,1.0)" font-size="15.5" text-anchor="middle">3</text>
<text transform="translate(462.2,752.3) scale(1,1.0)" font-size="15.5" text-anchor="middle">4</text>
<text transform="translate(498.8,752.3) scale(1,1.0)" font-size="15.5" text-anchor="middle">5</text>
<text x="342" y="768.7" font-size="16.7" textLength="153.5" lengthAdjust="spacingAndGlyphs">Transplantation no.</text>
<text transform="translate(287.5,737.6) rotate(-90)" x="0" y="0" font-size="17" textLength="192.5" lengthAdjust="spacingAndGlyphs">HSC frequency (% x100)</text>
<line x1="326.0" y1="611.0" x2="326.0" y2="641.0" stroke="#111" stroke-width="1"/><line x1="324.0" y1="611.0" x2="328.0" y2="611.0" stroke="#111" stroke-width="1.1"/><line x1="324.0" y1="641.0" x2="328.0" y2="641.0" stroke="#111" stroke-width="1.1"/>
<line x1="360.2" y1="604.3" x2="360.2" y2="645.6" stroke="#111" stroke-width="1"/><line x1="358.2" y1="604.3" x2="362.2" y2="604.3" stroke="#111" stroke-width="1.1"/><line x1="358.2" y1="645.6" x2="362.2" y2="645.6" stroke="#111" stroke-width="1.1"/>
<line x1="394.1" y1="620.0" x2="394.1" y2="650.0" stroke="#111" stroke-width="1"/><line x1="392.1" y1="620.0" x2="396.1" y2="620.0" stroke="#111" stroke-width="1.1"/><line x1="392.1" y1="650.0" x2="396.1" y2="650.0" stroke="#111" stroke-width="1.1"/>
<line x1="429.2" y1="601.0" x2="429.2" y2="644.5" stroke="#111" stroke-width="1"/><line x1="427.2" y1="601.0" x2="431.2" y2="601.0" stroke="#111" stroke-width="1.1"/><line x1="427.2" y1="644.5" x2="431.2" y2="644.5" stroke="#111" stroke-width="1.1"/>
<line x1="464.6" y1="611.0" x2="464.6" y2="640.0" stroke="#111" stroke-width="1"/><line x1="462.6" y1="611.0" x2="466.6" y2="611.0" stroke="#111" stroke-width="1.1"/><line x1="462.6" y1="640.0" x2="466.6" y2="640.0" stroke="#111" stroke-width="1.1"/>
<line x1="496.6" y1="718.0" x2="496.6" y2="736.0" stroke="#111" stroke-width="1"/><line x1="494.6" y1="718.0" x2="498.6" y2="718.0" stroke="#111" stroke-width="1.1"/><line x1="494.6" y1="736.0" x2="498.6" y2="736.0" stroke="#111" stroke-width="1.1"/>
<polyline points="325.9,627.6 360.1,621.9 394.0,635.4 429.1,619.1 464.5,624.8 496.5,727.0" fill="none" stroke="#1a2a9e" stroke-width="2" stroke-linejoin="round" opacity="1"/>
<polyline points="326.5,624.8 360.1,630.8 394.6,613.8 429.5,727.4" fill="none" stroke="#1ec81e" stroke-width="1.9" stroke-linejoin="round" opacity="1"/>
<polyline points="394.6,613.8 428.5,629.7 464.0,618.1 482.0,618.1" fill="none" stroke="#44d044" stroke-width="1.6" stroke-linejoin="round" opacity="0.85" stroke-dasharray="3,2.5"/>
<rect x="321.4" y="623.1" width="9" height="9" rx="1" fill="#1234ee" stroke="#0c1a80" stroke-width="0.8"/>
<rect x="355.6" y="617.4" width="9" height="9" rx="1" fill="#1234ee" stroke="#0c1a80" stroke-width="0.8"/>
<rect x="389.5" y="630.9" width="9" height="9" rx="1" fill="#1234ee" stroke="#0c1a80" stroke-width="0.8"/>
<rect x="424.6" y="614.6" width="9" height="9" rx="1" fill="#1234ee" stroke="#0c1a80" stroke-width="0.8"/>
<rect x="460.0" y="620.3" width="9" height="9" rx="1" fill="#1234ee" stroke="#0c1a80" stroke-width="0.8"/>
<rect x="492.0" y="722.5" width="9" height="9" rx="1" fill="#1234ee" stroke="#0c1a80" stroke-width="0.8"/>
<circle cx="326.5" cy="624.8" r="4.7" fill="#1ec81e"/>
<circle cx="360.1" cy="630.8" r="4.7" fill="#1ec81e"/>
<circle cx="394.6" cy="613.8" r="4.7" fill="#1ec81e"/>
<circle cx="429.5" cy="727.4" r="4.7" fill="#1ec81e"/>
<circle cx="428.5" cy="629.7" r="4.3" fill="#fff" fill-opacity="0.6" stroke="#1ec81e" stroke-width="1.8"/>
<circle cx="464.0" cy="618.1" r="4.3" fill="#fff" fill-opacity="0.6" stroke="#1ec81e" stroke-width="1.8"/>
<polygon points="481.4,614.8 489.6,618.1 481.4,621.4" fill="#1ec81e"/>
<rect x="328" y="687.7" width="83.89999999999998" height="39.09999999999991" fill="#fff" stroke="#000" stroke-width="1.3"/>
<line x1="331" y1="700.2" x2="348.8" y2="700.2" stroke="#1a2a9e" stroke-width="2"/>
<rect x="336.2" y="696.5" width="7.5" height="7.5" rx="1" fill="#1234ee" stroke="#0c1a80" stroke-width="0.8"/>
<line x1="331" y1="718.8" x2="348.8" y2="718.8" stroke="#1ec81e" stroke-width="2"/>
<circle cx="340.0" cy="718.8" r="4" fill="#1ec81e"/>
<text x="351.2" y="704.8" font-size="12">mTERT+/+</text>
<text x="351.2" y="723.1" font-size="12">mTERT-/-</text>
<defs><filter id="fb1" x="-20%" y="-20%" width="140%" height="140%"><feGaussianBlur stdDeviation="1.3"/></filter><filter id="fb2" x="-20%" y="-20%" width="140%" height="140%"><feGaussianBlur stdDeviation="2.0"/></filter><filter id="fg" x="-50%" y="-50%" width="200%" height="200%"><feGaussianBlur stdDeviation="0.5"/></filter><clipPath id="cfl"><rect x="34.3" y="807" width="236" height="225"/></clipPath><clipPath id="cfr"><rect x="282.3" y="807" width="238" height="225"/></clipPath></defs>
<rect x="34.3" y="807" width="236" height="225" fill="#000"/>
<rect x="282.3" y="807" width="238" height="225" fill="#000"/>
<g clip-path="url(#cfl)"><g filter="url(#fb1)" stroke="#1a26d4" stroke-linecap="round">
<line x1="133.0" y1="829.0" x2="133.0" y2="829.0" stroke-width="11.0"/>
<line x1="124.0" y1="842.0" x2="124.0" y2="842.0" stroke-width="9.9"/>
<line x1="140.3" y1="858.6" x2="140.7" y2="863.4" stroke-width="9.9"/>
<line x1="93.4" y1="869.8" x2="93.6" y2="873.2" stroke-width="13.2"/>
<line x1="113.4" y1="875.6" x2="112.6" y2="882.4" stroke-width="15.4"/>
<line x1="74.0" y1="892.3" x2="80.5" y2="887.0" stroke-width="11.0"/>
<line x1="103.0" y1="901.7" x2="110.0" y2="901.3" stroke-width="11.0"/>
<line x1="147.5" y1="914.0" x2="147.5" y2="914.0" stroke-width="12.1"/>
<line x1="174.3" y1="857.1" x2="180.7" y2="858.9" stroke-width="12.1"/>
<line x1="199.6" y1="865.5" x2="206.4" y2="866.5" stroke-width="9.9"/>
<line x1="165.5" y1="867.6" x2="166.5" y2="873.4" stroke-width="9.9"/>
<line x1="159.3" y1="885.2" x2="159.7" y2="894.8" stroke-width="14.3"/>
<line x1="188.3" y1="886.0" x2="192.7" y2="890.0" stroke-width="12.1"/>
<line x1="217.3" y1="881.2" x2="218.7" y2="885.8" stroke-width="12.1"/>
<line x1="222.0" y1="893.9" x2="224.0" y2="898.1" stroke-width="12.1"/>
<line x1="162.9" y1="906.8" x2="167.1" y2="909.2" stroke-width="15.4"/>
<line x1="193.9" y1="917.0" x2="194.1" y2="917.0" stroke-width="11.0"/>
<line x1="67.7" y1="933.9" x2="79.9" y2="923.8" stroke-width="13.2"/>
<line x1="90.8" y1="932.7" x2="95.2" y2="932.3" stroke-width="13.2"/>
<line x1="105.0" y1="927.8" x2="111.8" y2="920.5" stroke-width="12.1"/>
<line x1="127.1" y1="926.7" x2="133.6" y2="934.3" stroke-width="13.2"/>
<line x1="147.1" y1="924.3" x2="147.9" y2="925.7" stroke-width="13.2"/>
<line x1="75.3" y1="972.2" x2="75.7" y2="980.8" stroke-width="14.3"/>
<line x1="88.5" y1="967.3" x2="94.5" y2="962.7" stroke-width="12.1"/>
<line x1="102.1" y1="961.7" x2="105.9" y2="963.3" stroke-width="12.1"/>
<line x1="123.8" y1="982.1" x2="124.2" y2="984.9" stroke-width="14.3"/>
<line x1="113.4" y1="1000.8" x2="113.6" y2="1003.2" stroke-width="13.2"/>
<line x1="116.7" y1="1011.2" x2="123.3" y2="1012.8" stroke-width="13.2"/>
<line x1="142.3" y1="993.2" x2="142.7" y2="998.8" stroke-width="14.3"/>
<line x1="160.7" y1="930.6" x2="172.7" y2="921.4" stroke-width="13.2"/>
<line x1="193.9" y1="922.8" x2="193.9" y2="931.2" stroke-width="13.2"/>
<line x1="216.9" y1="934.5" x2="229.6" y2="927.8" stroke-width="14.3"/>
<line x1="180.1" y1="943.7" x2="192.6" y2="946.3" stroke-width="13.2"/>
<line x1="210.9" y1="951.4" x2="216.0" y2="958.2" stroke-width="14.3"/>
<line x1="196.1" y1="958.0" x2="198.5" y2="966.6" stroke-width="11.0"/>
<line x1="157.3" y1="975.9" x2="168.1" y2="972.9" stroke-width="14.3"/>
<line x1="180.5" y1="974.2" x2="189.8" y2="980.4" stroke-width="13.2"/>
<line x1="214.8" y1="982.8" x2="219.1" y2="986.8" stroke-width="13.2"/>
<line x1="169.0" y1="998.6" x2="176.0" y2="995.3" stroke-width="12.1"/>
<line x1="185.1" y1="999.2" x2="192.2" y2="1007.4" stroke-width="12.1"/>
<line x1="156.7" y1="1012.8" x2="164.3" y2="1014.2" stroke-width="13.2"/>
</g><g filter="url(#fb1)" stroke="#3448ff" stroke-linecap="round" opacity="0.5">
<line x1="133.0" y1="829.0" x2="133.0" y2="829.0" stroke-width="5.0"/>
<line x1="124.0" y1="842.0" x2="124.0" y2="842.0" stroke-width="4.5"/>
<line x1="140.3" y1="858.6" x2="140.7" y2="863.4" stroke-width="4.5"/>
<line x1="93.4" y1="869.8" x2="93.6" y2="873.2" stroke-width="6.0"/>
<line x1="113.4" y1="875.6" x2="112.6" y2="882.4" stroke-width="7.0"/>
<line x1="74.0" y1="892.3" x2="80.5" y2="887.0" stroke-width="5.0"/>
<line x1="103.0" y1="901.7" x2="110.0" y2="901.3" stroke-width="5.0"/>
<line x1="147.5" y1="914.0" x2="147.5" y2="914.0" stroke-width="5.5"/>
<line x1="174.3" y1="857.1" x2="180.7" y2="858.9" stroke-width="5.5"/>
<line x1="199.6" y1="865.5" x2="206.4" y2="866.5" stroke-width="4.5"/>
<line x1="165.5" y1="867.6" x2="166.5" y2="873.4" stroke-width="4.5"/>
<line x1="159.3" y1="885.2" x2="159.7" y2="894.8" stroke-width="6.5"/>
<line x1="188.3" y1="886.0" x2="192.7" y2="890.0" stroke-width="5.5"/>
<line x1="217.3" y1="881.2" x2="218.7" y2="885.8" stroke-width="5.5"/>
<line x1="222.0" y1="893.9" x2="224.0" y2="898.1" stroke-width="5.5"/>
<line x1="162.9" y1="906.8" x2="167.1" y2="909.2" stroke-width="7.0"/>
<line x1="193.9" y1="917.0" x2="194.1" y2="917.0" stroke-width="5.0"/>
<line x1="67.7" y1="933.9" x2="79.9" y2="923.8" stroke-width="6.0"/>
<line x1="90.8" y1="932.7" x2="95.2" y2="932.3" stroke-width="6.0"/>
<line x1="105.0" y1="927.8" x2="111.8" y2="920.5" stroke-width="5.5"/>
<line x1="127.1" y1="926.7" x2="133.6" y2="934.3" stroke-width="6.0"/>
<line x1="147.1" y1="924.3" x2="147.9" y2="925.7" stroke-width="6.0"/>
<line x1="75.3" y1="972.2" x2="75.7" y2="980.8" stroke-width="6.5"/>
<line x1="88.5" y1="967.3" x2="94.5" y2="962.7" stroke-width="5.5"/>
<line x1="102.1" y1="961.7" x2="105.9" y2="963.3" stroke-width="5.5"/>
<line x1="123.8" y1="982.1" x2="124.2" y2="984.9" stroke-width="6.5"/>
<line x1="113.4" y1="1000.8" x2="113.6" y2="1003.2" stroke-width="6.0"/>
<line x1="116.7" y1="1011.2" x2="123.3" y2="1012.8" stroke-width="6.0"/>
<line x1="142.3" y1="993.2" x2="142.7" y2="998.8" stroke-width="6.5"/>
<line x1="160.7" y1="930.6" x2="172.7" y2="921.4" stroke-width="6.0"/>
<line x1="193.9" y1="922.8" x2="193.9" y2="931.2" stroke-width="6.0"/>
<line x1="216.9" y1="934.5" x2="229.6" y2="927.8" stroke-width="6.5"/>
<line x1="180.1" y1="943.7" x2="192.6" y2="946.3" stroke-width="6.0"/>
<line x1="210.9" y1="951.4" x2="216.0" y2="958.2" stroke-width="6.5"/>
<line x1="196.1" y1="958.0" x2="198.5" y2="966.6" stroke-width="5.0"/>
<line x1="157.3" y1="975.9" x2="168.1" y2="972.9" stroke-width="6.5"/>
<line x1="180.5" y1="974.2" x2="189.8" y2="980.4" stroke-width="6.0"/>
<line x1="214.8" y1="982.8" x2="219.1" y2="986.8" stroke-width="6.0"/>
<line x1="169.0" y1="998.6" x2="176.0" y2="995.3" stroke-width="5.5"/>
<line x1="185.1" y1="999.2" x2="192.2" y2="1007.4" stroke-width="5.5"/>
<line x1="156.7" y1="1012.8" x2="164.3" y2="1014.2" stroke-width="6.0"/>
</g><g filter="url(#fg)">
<circle cx="131.4" cy="820.3" r="2.63" fill="#38e860"/>
<circle cx="139" cy="824" r="2.63" fill="#38e860"/>
<circle cx="121.7" cy="837.2" r="1.27" fill="#38e860"/>
<circle cx="128.6" cy="834.2" r="1.27" fill="#38e860"/>
<circle cx="122.4" cy="849.8" r="1.36" fill="#38e860"/>
<circle cx="129.8" cy="848" r="1.36" fill="#38e860"/>
<circle cx="136.7" cy="852.2" r="1.27" fill="#38e860"/>
<circle cx="141.3" cy="851.7" r="1.27" fill="#38e860"/>
<circle cx="139.7" cy="867.2" r="1.27" fill="#38e860"/>
<circle cx="144.3" cy="866.5" r="1.27" fill="#38e860"/>
<circle cx="111.5" cy="861.4" r="1.36" fill="#38e860"/>
<circle cx="106.7" cy="866.5" r="1.36" fill="#38e860"/>
<circle cx="90.5" cy="884.5" r="1.27" fill="#38e860"/>
<circle cx="96.3" cy="885" r="1.27" fill="#38e860"/>
<circle cx="100.9" cy="884.5" r="1.27" fill="#38e860"/>
<circle cx="104" cy="881" r="1.19" fill="#38e860"/>
<circle cx="67.5" cy="894.4" r="1.78" fill="#38e860"/>
<circle cx="72.8" cy="897.9" r="1.44" fill="#38e860"/>
<circle cx="83.2" cy="885.6" r="1.27" fill="#38e860"/>
<circle cx="81.3" cy="881.7" r="1.02" fill="#38e860"/>
<circle cx="115.9" cy="894.8" r="1.36" fill="#38e860"/>
<circle cx="117.1" cy="900.6" r="1.36" fill="#38e860"/>
<circle cx="119.8" cy="887.2" r="1.27" fill="#38e860"/>
<circle cx="141.3" cy="909.2" r="1.78" fill="#38e860"/>
<circle cx="146" cy="908" r="1.78" fill="#38e860"/>
<circle cx="152.9" cy="899.5" r="2.21" fill="#38e860"/>
<circle cx="114.8" cy="913.3" r="1.27" fill="#38e860"/>
<circle cx="170.3" cy="853.3" r="1.36" fill="#38e860"/>
<circle cx="170.3" cy="857.2" r="1.36" fill="#38e860"/>
<circle cx="194.3" cy="861.4" r="1.27" fill="#38e860"/>
<circle cx="195" cy="868.8" r="1.27" fill="#38e860"/>
<circle cx="209.5" cy="862.5" r="1.27" fill="#38e860"/>
<circle cx="211.2" cy="867.9" r="1.27" fill="#38e860"/>
<circle cx="165.7" cy="874" r="1.27" fill="#38e860"/>
<circle cx="158.8" cy="864.2" r="1.27" fill="#38e860"/>
<circle cx="165" cy="863" r="1.27" fill="#38e860"/>
<circle cx="197.3" cy="893.2" r="1.27" fill="#38e860"/>
<circle cx="195" cy="896" r="1.27" fill="#38e860"/>
<circle cx="218" cy="875.2" r="1.27" fill="#38e860"/>
<circle cx="219.2" cy="879.4" r="1.27" fill="#38e860"/>
<circle cx="226.2" cy="885.6" r="1.27" fill="#38e860"/>
<circle cx="229.6" cy="886.8" r="1.27" fill="#38e860"/>
<circle cx="218" cy="901.8" r="1.27" fill="#38e860"/>
<circle cx="221.5" cy="904.1" r="1.27" fill="#38e860"/>
<circle cx="210.5" cy="893.2" r="1.10" fill="#38e860"/>
<circle cx="203.8" cy="890.2" r="1.10" fill="#38e860"/>
<circle cx="168.5" cy="900.2" r="1.53" fill="#38e860"/>
<circle cx="172.4" cy="905.2" r="1.53" fill="#38e860"/>
<circle cx="154.6" cy="913.3" r="1.53" fill="#38e860"/>
<circle cx="158.1" cy="915.6" r="1.53" fill="#38e860"/>
<circle cx="192.7" cy="912.6" r="1.53" fill="#38e860"/>
<circle cx="197.3" cy="913.3" r="1.53" fill="#38e860"/>
<circle cx="184.2" cy="878" r="1.10" fill="#38e860"/>
<circle cx="177.2" cy="884" r="1.10" fill="#38e860"/>
<circle cx="160.4" cy="864.8" r="1.10" fill="#38e860"/>
<circle cx="63.5" cy="937.6" r="2.12" fill="#38e860"/>
<circle cx="81.3" cy="919.2" r="1.36" fill="#38e860"/>
<circle cx="83.6" cy="921.5" r="1.36" fill="#38e860"/>
<circle cx="83.6" cy="935.8" r="1.27" fill="#38e860"/>
<circle cx="84.3" cy="931.6" r="1.27" fill="#38e860"/>
<circle cx="100.9" cy="924.2" r="1.27" fill="#38e860"/>
<circle cx="103.2" cy="928.4" r="1.27" fill="#38e860"/>
<circle cx="103.2" cy="934.6" r="1.27" fill="#38e860"/>
<circle cx="115.9" cy="917.8" r="1.27" fill="#38e860"/>
<circle cx="122.8" cy="922.4" r="1.27" fill="#38e860"/>
<circle cx="126.3" cy="921.5" r="1.27" fill="#38e860"/>
<circle cx="132.8" cy="939.2" r="1.27" fill="#38e860"/>
<circle cx="137.2" cy="937.6" r="1.27" fill="#38e860"/>
<circle cx="143.6" cy="932.3" r="1.27" fill="#38e860"/>
<circle cx="147.8" cy="931.6" r="1.27" fill="#38e860"/>
<circle cx="73.7" cy="963.9" r="1.36" fill="#38e860"/>
<circle cx="77.4" cy="964.2" r="1.36" fill="#38e860"/>
<circle cx="72.1" cy="987.7" r="1.36" fill="#38e860"/>
<circle cx="75.1" cy="988.4" r="1.36" fill="#38e860"/>
<circle cx="83.6" cy="967" r="1.27" fill="#38e860"/>
<circle cx="86.6" cy="970.4" r="1.27" fill="#38e860"/>
<circle cx="94.5" cy="957.7" r="1.27" fill="#38e860"/>
<circle cx="95.9" cy="960.7" r="1.27" fill="#38e860"/>
<circle cx="108.3" cy="967.6" r="1.27" fill="#38e860"/>
<circle cx="110.8" cy="966.2" r="1.27" fill="#38e860"/>
<circle cx="119.9" cy="975.5" r="1.27" fill="#38e860"/>
<circle cx="124.5" cy="975" r="1.27" fill="#38e860"/>
<circle cx="122.8" cy="991.2" r="1.27" fill="#38e860"/>
<circle cx="127.5" cy="991.6" r="1.27" fill="#38e860"/>
<circle cx="114.8" cy="993.5" r="2.12" fill="#38e860"/>
<circle cx="117.1" cy="995.8" r="1.70" fill="#38e860"/>
<circle cx="109" cy="1007.3" r="1.27" fill="#38e860"/>
<circle cx="111.3" cy="1006.9" r="1.27" fill="#38e860"/>
<circle cx="109.7" cy="1016.5" r="1.27" fill="#38e860"/>
<circle cx="130.9" cy="1013.1" r="1.27" fill="#38e860"/>
<circle cx="141.3" cy="988.4" r="1.27" fill="#38e860"/>
<circle cx="146.4" cy="988.8" r="1.27" fill="#38e860"/>
<circle cx="147" cy="976.2" r="1.27" fill="#38e860"/>
<circle cx="144.3" cy="1003.9" r="1.27" fill="#38e860"/>
<circle cx="158.1" cy="930.7" r="1.27" fill="#38e860"/>
<circle cx="161.5" cy="935.3" r="1.27" fill="#38e860"/>
<circle cx="175.4" cy="917.8" r="1.27" fill="#38e860"/>
<circle cx="178.2" cy="921.5" r="1.27" fill="#38e860"/>
<circle cx="192.7" cy="935.8" r="1.27" fill="#38e860"/>
<circle cx="196.2" cy="936.2" r="1.27" fill="#38e860"/>
<circle cx="210.5" cy="936.2" r="2.12" fill="#38e860"/>
<circle cx="230.8" cy="922.4" r="1.27" fill="#38e860"/>
<circle cx="235.8" cy="925.4" r="1.27" fill="#38e860"/>
<circle cx="174.9" cy="942.7" r="1.27" fill="#38e860"/>
<circle cx="175.8" cy="946.2" r="1.27" fill="#38e860"/>
<circle cx="195" cy="943.8" r="1.27" fill="#38e860"/>
<circle cx="196.2" cy="947.3" r="1.27" fill="#38e860"/>
<circle cx="216.9" cy="962.3" r="1.27" fill="#38e860"/>
<circle cx="221.1" cy="960" r="1.27" fill="#38e860"/>
<circle cx="204.2" cy="946.2" r="1.10" fill="#38e860"/>
<circle cx="207.2" cy="942.2" r="1.10" fill="#38e860"/>
<circle cx="192.7" cy="954.2" r="1.27" fill="#38e860"/>
<circle cx="196.2" cy="953.8" r="1.27" fill="#38e860"/>
<circle cx="196.2" cy="970.4" r="1.27" fill="#38e860"/>
<circle cx="203.5" cy="968.5" r="1.27" fill="#38e860"/>
<circle cx="168.5" cy="969.2" r="1.27" fill="#38e860"/>
<circle cx="171.9" cy="972.2" r="1.27" fill="#38e860"/>
<circle cx="151.2" cy="981.9" r="1.27" fill="#38e860"/>
<circle cx="177.2" cy="972.2" r="1.27" fill="#38e860"/>
<circle cx="180" cy="970.4" r="1.27" fill="#38e860"/>
<circle cx="190.4" cy="984.2" r="1.27" fill="#38e860"/>
<circle cx="192.7" cy="981.9" r="1.27" fill="#38e860"/>
<circle cx="210" cy="981.9" r="1.27" fill="#38e860"/>
<circle cx="212.8" cy="978.5" r="1.27" fill="#38e860"/>
<circle cx="165" cy="998.1" r="1.10" fill="#38e860"/>
<circle cx="166.2" cy="1002.7" r="1.10" fill="#38e860"/>
<circle cx="177.7" cy="992.3" r="1.10" fill="#38e860"/>
<circle cx="182.3" cy="996.9" r="1.10" fill="#38e860"/>
<circle cx="185.1" cy="995.3" r="1.10" fill="#38e860"/>
<circle cx="188.1" cy="1013.1" r="1.10" fill="#38e860"/>
<circle cx="193.8" cy="1009.6" r="1.10" fill="#38e860"/>
<circle cx="152.8" cy="1009.6" r="1.27" fill="#38e860"/>
<circle cx="170.8" cy="1009.6" r="1.27" fill="#38e860"/>
<circle cx="169.6" cy="1017.7" r="1.27" fill="#38e860"/>
<circle cx="152.3" cy="1014.2" r="1.27" fill="#38e860"/>
<circle cx="158" cy="917.3" r="1.27" fill="#38e860"/>
<ellipse cx="175.4" cy="864.8" rx="4" ry="2.2" transform="rotate(20,175.4,864.8)" fill="#30e040"/>
<ellipse cx="155.8" cy="900.2" rx="3.5" ry="3" transform="rotate(0,155.8,900.2)" fill="#30e040"/>
<ellipse cx="143.6" cy="1010.8" rx="4" ry="3" transform="rotate(0,143.6,1010.8)" fill="#30e040"/>
</g></g>
<g clip-path="url(#cfr)"><g filter="url(#fb2)" fill="#1a22d8">
<ellipse cx="364" cy="829" rx="19" ry="8" transform="rotate(0,364,829)"/>
<ellipse cx="357" cy="847" rx="16" ry="10" transform="rotate(0,357,847)"/>
<ellipse cx="325.5" cy="842.6" rx="8" ry="9" transform="rotate(0,325.5,842.6)"/>
<ellipse cx="341.5" cy="866" rx="6.5" ry="10" transform="rotate(-25,341.5,866)"/>
<ellipse cx="316.3" cy="886" rx="11" ry="10" transform="rotate(0,316.3,886)"/>
<ellipse cx="339.2" cy="890.7" rx="7" ry="7" transform="rotate(0,339.2,890.7)"/>
<ellipse cx="362" cy="891" rx="12" ry="13.5" transform="rotate(0,362,891)"/>
<ellipse cx="323.2" cy="906.7" rx="10" ry="10" transform="rotate(0,323.2,906.7)"/>
<ellipse cx="359.8" cy="909" rx="11" ry="9" transform="rotate(0,359.8,909)"/>
<ellipse cx="380.4" cy="918" rx="10" ry="9" transform="rotate(0,380.4,918)"/>
<ellipse cx="405.6" cy="870" rx="7" ry="9" transform="rotate(0,405.6,870)"/>
<ellipse cx="414.7" cy="883.8" rx="14" ry="5.5" transform="rotate(0,414.7,883.8)"/>
<ellipse cx="435.3" cy="882.5" rx="7.5" ry="16" transform="rotate(10,435.3,882.5)"/>
<ellipse cx="453.6" cy="890.7" rx="10" ry="12" transform="rotate(-20,453.6,890.7)"/>
<ellipse cx="476.5" cy="871" rx="10" ry="18" transform="rotate(0,476.5,871)"/>
<ellipse cx="492.5" cy="870" rx="6" ry="15" transform="rotate(-10,492.5,870)"/>
<ellipse cx="504" cy="881.5" rx="6" ry="6" transform="rotate(0,504,881.5)"/>
<ellipse cx="499.4" cy="893" rx="8" ry="7" transform="rotate(0,499.4,893)"/>
<ellipse cx="442.2" cy="913.5" rx="8" ry="8" transform="rotate(0,442.2,913.5)"/>
<ellipse cx="469.6" cy="927.3" rx="6" ry="6" transform="rotate(0,469.6,927.3)"/>
<ellipse cx="403.3" cy="936.4" rx="9" ry="8" transform="rotate(0,403.3,936.4)"/>
<ellipse cx="419.3" cy="928.7" rx="8" ry="8" transform="rotate(0,419.3,928.7)"/>
<ellipse cx="449" cy="945.6" rx="21" ry="8" transform="rotate(0,449,945.6)"/>
<ellipse cx="318.6" cy="941" rx="7" ry="6" transform="rotate(0,318.6,941)"/>
<ellipse cx="339.2" cy="936.4" rx="6" ry="6" transform="rotate(0,339.2,936.4)"/>
<ellipse cx="366.7" cy="947.9" rx="7" ry="7" transform="rotate(0,366.7,947.9)"/>
<ellipse cx="321" cy="961.6" rx="11" ry="7" transform="rotate(-30,321,961.6)"/>
<ellipse cx="346" cy="959.3" rx="11" ry="8" transform="rotate(40,346,959.3)"/>
<ellipse cx="364.4" cy="975.3" rx="6" ry="5.5" transform="rotate(0,364.4,975.3)"/>
<ellipse cx="380.4" cy="966.2" rx="5" ry="6" transform="rotate(0,380.4,966.2)"/>
<ellipse cx="460.5" cy="959.3" rx="6" ry="8" transform="rotate(0,460.5,959.3)"/>
<ellipse cx="412" cy="988" rx="9" ry="6" transform="rotate(-10,412,988)"/>
<ellipse cx="394.1" cy="1000.5" rx="7" ry="6" transform="rotate(-30,394.1,1000.5)"/>
</g><g filter="url(#fb2)" fill="#3a50ff" opacity="0.55">
<ellipse cx="364" cy="829" rx="9.0" ry="3.5" transform="rotate(0,364,829)"/>
<ellipse cx="357" cy="847" rx="7.5" ry="4.5" transform="rotate(0,357,847)"/>
<ellipse cx="325.5" cy="842.6" rx="3.5" ry="4.0" transform="rotate(0,325.5,842.6)"/>
<ellipse cx="341.5" cy="866" rx="2.8" ry="4.5" transform="rotate(-25,341.5,866)"/>
<ellipse cx="316.3" cy="886" rx="5.0" ry="4.5" transform="rotate(0,316.3,886)"/>
<ellipse cx="339.2" cy="890.7" rx="3.0" ry="3.0" transform="rotate(0,339.2,890.7)"/>
<ellipse cx="362" cy="891" rx="5.5" ry="6.2" transform="rotate(0,362,891)"/>
<ellipse cx="323.2" cy="906.7" rx="4.5" ry="4.5" transform="rotate(0,323.2,906.7)"/>
<ellipse cx="359.8" cy="909" rx="5.0" ry="4.0" transform="rotate(0,359.8,909)"/>
<ellipse cx="380.4" cy="918" rx="4.5" ry="4.0" transform="rotate(0,380.4,918)"/>
<ellipse cx="405.6" cy="870" rx="3.0" ry="4.0" transform="rotate(0,405.6,870)"/>
<ellipse cx="414.7" cy="883.8" rx="6.5" ry="2.2" transform="rotate(0,414.7,883.8)"/>
<ellipse cx="435.3" cy="882.5" rx="3.2" ry="7.5" transform="rotate(10,435.3,882.5)"/>
<ellipse cx="453.6" cy="890.7" rx="4.5" ry="5.5" transform="rotate(-20,453.6,890.7)"/>
<ellipse cx="476.5" cy="871" rx="4.5" ry="8.5" transform="rotate(0,476.5,871)"/>
<ellipse cx="492.5" cy="870" rx="2.5" ry="7.0" transform="rotate(-10,492.5,870)"/>
<ellipse cx="504" cy="881.5" rx="2.5" ry="2.5" transform="rotate(0,504,881.5)"/>
<ellipse cx="499.4" cy="893" rx="3.5" ry="3.0" transform="rotate(0,499.4,893)"/>
<ellipse cx="442.2" cy="913.5" rx="3.5" ry="3.5" transform="rotate(0,442.2,913.5)"/>
<ellipse cx="469.6" cy="927.3" rx="2.5" ry="2.5" transform="rotate(0,469.6,927.3)"/>
<ellipse cx="403.3" cy="936.4" rx="4.0" ry="3.5" transform="rotate(0,403.3,936.4)"/>
<ellipse cx="419.3" cy="928.7" rx="3.5" ry="3.5" transform="rotate(0,419.3,928.7)"/>
<ellipse cx="449" cy="945.6" rx="10.0" ry="3.5" transform="rotate(0,449,945.6)"/>
<ellipse cx="318.6" cy="941" rx="3.0" ry="2.5" transform="rotate(0,318.6,941)"/>
<ellipse cx="339.2" cy="936.4" rx="2.5" ry="2.5" transform="rotate(0,339.2,936.4)"/>
<ellipse cx="366.7" cy="947.9" rx="3.0" ry="3.0" transform="rotate(0,366.7,947.9)"/>
<ellipse cx="321" cy="961.6" rx="5.0" ry="3.0" transform="rotate(-30,321,961.6)"/>
<ellipse cx="346" cy="959.3" rx="5.0" ry="3.5" transform="rotate(40,346,959.3)"/>
<ellipse cx="364.4" cy="975.3" rx="2.5" ry="2.2" transform="rotate(0,364.4,975.3)"/>
<ellipse cx="380.4" cy="966.2" rx="2.0" ry="2.5" transform="rotate(0,380.4,966.2)"/>
<ellipse cx="460.5" cy="959.3" rx="2.5" ry="3.5" transform="rotate(0,460.5,959.3)"/>
<ellipse cx="412" cy="988" rx="4.0" ry="2.5" transform="rotate(-10,412,988)"/>
<ellipse cx="394.1" cy="1000.5" rx="3.0" ry="2.5" transform="rotate(-30,394.1,1000.5)"/>
</g><g filter="url(#fg)">
<circle cx="343.2" cy="833.7" r="0.9" fill="#90d870"/>
<circle cx="354.7" cy="842.9" r="0.9" fill="#90d870"/>
<circle cx="331.6" cy="855.6" r="0.9" fill="#90d870"/>
<circle cx="364.6" cy="875.2" r="0.9" fill="#90d870"/>
<circle cx="357" cy="879.8" r="0.9" fill="#90d870"/>
<circle cx="325.8" cy="893.7" r="0.9" fill="#90d870"/>
<circle cx="351.2" cy="893.7" r="0.9" fill="#90d870"/>
<circle cx="372" cy="898.3" r="0.9" fill="#90d870"/>
<circle cx="313.2" cy="907.5" r="0.9" fill="#90d870"/>
<circle cx="342" cy="846.4" r="0.9" fill="#90d870"/>
<circle cx="397.4" cy="883.3" r="0.9" fill="#90d870"/>
<circle cx="477.3" cy="847.5" r="0.9" fill="#90d870"/>
<circle cx="479.6" cy="856.3" r="0.9" fill="#90d870"/>
<circle cx="469.7" cy="859.1" r="0.9" fill="#90d870"/>
<circle cx="490.5" cy="884" r="0.9" fill="#90d870"/>
<circle cx="487.7" cy="897.9" r="0.9" fill="#90d870"/>
<circle cx="495.8" cy="902.5" r="0.9" fill="#90d870"/>
<circle cx="469.2" cy="877.5" r="0.9" fill="#90d870"/>
<circle cx="414.3" cy="870.2" r="0.9" fill="#90d870"/>
<circle cx="462.3" cy="899.5" r="0.9" fill="#90d870"/>
<circle cx="375.5" cy="943.8" r="0.9" fill="#90d870"/>
<circle cx="330.9" cy="949.6" r="0.9" fill="#90d870"/>
<circle cx="334.6" cy="962.3" r="0.9" fill="#90d870"/>
<circle cx="369.7" cy="957" r="0.9" fill="#90d870"/>
<circle cx="370.9" cy="979.2" r="0.9" fill="#90d870"/>
<circle cx="350.1" cy="918.5" r="0.9" fill="#90d870"/>
<circle cx="465.8" cy="956.1" r="0.9" fill="#90d870"/>
<circle cx="464.6" cy="968.1" r="0.9" fill="#90d870"/>
<circle cx="469.6" cy="858.6" r="1.5" fill="#40e050"/>
<circle cx="481" cy="851.8" r="1.5" fill="#40e050"/>
<circle cx="490.2" cy="883.8" r="1.5" fill="#40e050"/>
<circle cx="465" cy="954.7" r="1.5" fill="#40e050"/>
<circle cx="465" cy="968.5" r="1.5" fill="#40e050"/>
<circle cx="496.2" cy="902" r="1.5" fill="#40e050"/>
<circle cx="482.5" cy="902" r="1.5" fill="#40e050"/>
</g>
<polygon points="426.5,857.6 431.8,855.2 433.5,863" fill="#fff"/>
<polygon points="503,845.3 506.2,849.3 498.8,853.5" fill="#fff"/>
</g>
</svg>
</body></html>
